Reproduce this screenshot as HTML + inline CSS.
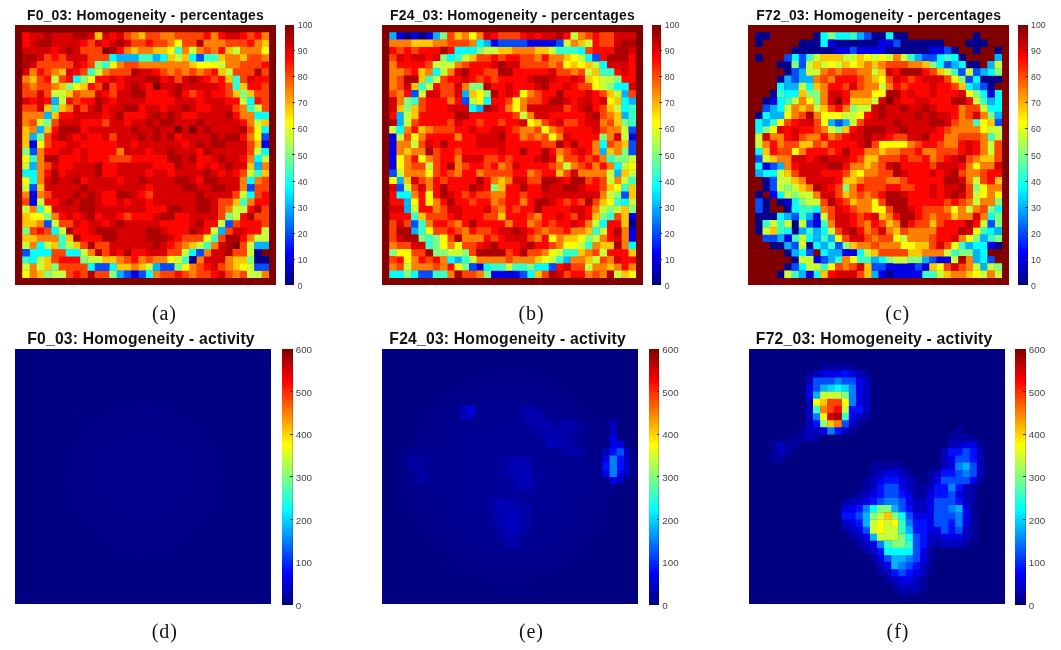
<!DOCTYPE html>
<html><head><meta charset="utf-8"><title>Homogeneity maps</title>
<style>
html,body{margin:0;padding:0;background:#fff}
body{position:relative;width:1061px;height:650px;overflow:hidden;font-family:"Liberation Sans",sans-serif}
.hm{position:absolute;display:block}
.cb{position:absolute;box-shadow:inset -0.6px 0.6px 0 rgba(60,0,0,.35);background:linear-gradient(to bottom,#800000 0%,#bf0000 6.25%,#ff0000 12.5%,#ff4000 18.75%,#ff8000 25%,#ffbf00 31.25%,#ffff00 37.5%,#bfff40 43.75%,#80ff80 50%,#40ffbf 56.25%,#00ffff 62.5%,#00bfff 68.75%,#0080ff 75%,#0040ff 81.25%,#0000ff 87.5%,#0000bf 93.75%,#000080 100%)}
.tk{position:absolute;width:2.5px;height:1px;background:#333}
.lb{position:absolute;font-size:8.7px;line-height:10px;color:#444;white-space:nowrap}
.l2{font-size:9.8px}
.tt{position:absolute;width:300px;text-align:center;font-weight:bold;color:#111;white-space:nowrap}
.t1{top:7.3px;font-size:13.93px;line-height:16px;letter-spacing:0.2px}
.t2{top:330.1px;font-size:15.7px;line-height:18px;letter-spacing:0.21px}
.cap{position:absolute;width:60px;text-align:center;font-family:"Liberation Serif",serif;font-size:20px;line-height:24px;color:#111;letter-spacing:0.9px;text-indent:0.9px}
</style></head><body>
<svg class="hm" style="left:15px;top:25px" width="261" height="260" viewBox="0 0 36 36" preserveAspectRatio="none">
<rect width="36" height="36" fill="#d60000"/>
<path fill="#800000" d="M0 0h36.04v1.04h-36.04zM0 1h1.04v1.04h-1.04zM35 1h1.04v1.04h-1.04zM0 2h1.04v1.04h-1.04zM35 2h1.04v1.04h-1.04zM0 3h1.04v1.04h-1.04zM12 3h1.04v1.04h-1.04zM35 3h1.04v1.04h-1.04zM0 4h1.04v1.04h-1.04zM35 4h1.04v1.04h-1.04zM0 5h1.04v1.04h-1.04zM35 5h1.04v1.04h-1.04zM0 6h1.04v1.04h-1.04zM35 6h1.04v1.04h-1.04zM0 7h1.04v1.04h-1.04zM35 7h1.04v1.04h-1.04zM0 8h1.04v1.04h-1.04zM19 8h1.04v1.04h-1.04zM35 8h1.04v1.04h-1.04zM0 9h1.04v1.04h-1.04zM35 9h1.04v1.04h-1.04zM0 10h1.04v1.04h-1.04zM35 10h1.04v1.04h-1.04zM0 11h1.04v1.04h-1.04zM35 11h1.04v1.04h-1.04zM0 12h1.04v1.04h-1.04zM35 12h1.04v1.04h-1.04zM0 13h1.04v1.04h-1.04zM35 13h1.04v1.04h-1.04zM0 14h1.04v1.04h-1.04zM22 14h1.04v1.04h-1.04zM24 14h1.04v1.04h-1.04zM35 14h1.04v1.04h-1.04zM0 15h1.04v1.04h-1.04zM35 15h1.04v1.04h-1.04zM0 16h1.04v1.04h-1.04zM35 16h1.04v1.04h-1.04zM0 17h1.04v1.04h-1.04zM35 17h1.04v1.04h-1.04zM0 18h1.04v1.04h-1.04zM35 18h1.04v1.04h-1.04zM0 19h1.04v1.04h-1.04zM35 19h1.04v1.04h-1.04zM0 20h1.04v1.04h-1.04zM35 20h1.04v1.04h-1.04zM0 21h1.04v1.04h-1.04zM35 21h1.04v1.04h-1.04zM0 22h1.04v1.04h-1.04zM35 22h1.04v1.04h-1.04zM0 23h1.04v1.04h-1.04zM35 23h1.04v1.04h-1.04zM0 24h1.04v1.04h-1.04zM35 24h1.04v1.04h-1.04zM0 25h1.04v1.04h-1.04zM35 25h1.04v1.04h-1.04zM0 26h1.04v1.04h-1.04zM35 26h1.04v1.04h-1.04zM0 27h1.04v1.04h-1.04zM35 27h1.04v1.04h-1.04zM0 28h1.04v1.04h-1.04zM35 28h1.04v1.04h-1.04zM0 29h1.04v1.04h-1.04zM35 29h1.04v1.04h-1.04zM0 30h1.04v1.04h-1.04zM30 30h1.04v1.04h-1.04zM35 30h1.04v1.04h-1.04zM0 31h1.04v1.04h-1.04zM34 31h2.04v1.04h-2.04zM0 32h1.04v1.04h-1.04zM35 32h1.04v1.04h-1.04zM0 33h1.04v1.04h-1.04zM35 33h1.04v1.04h-1.04zM0 34h1.04v1.04h-1.04zM35 34h1.04v1.04h-1.04zM0 35h36.04v1.04h-36.04z"/>
<path fill="#ff0500" d="M1 1h1.04v1.04h-1.04zM13 1h1.04v1.04h-1.04zM26 1h1.04v1.04h-1.04zM28 1h1.04v1.04h-1.04zM31 1h1.04v1.04h-1.04zM33 1h1.04v1.04h-1.04zM1 2h1.04v1.04h-1.04zM9 2h1.04v1.04h-1.04zM12 2h1.04v1.04h-1.04zM18 2h1.04v1.04h-1.04zM32 2h1.04v1.04h-1.04zM5 3h1.04v1.04h-1.04zM14 3h1.04v1.04h-1.04zM28 3h1.04v1.04h-1.04zM5 4h1.04v1.04h-1.04zM9 5h1.04v1.04h-1.04zM34 5h1.04v1.04h-1.04zM3 6h1.04v1.04h-1.04zM8 6h1.04v1.04h-1.04zM19 6h1.04v1.04h-1.04zM27 6h1.04v1.04h-1.04zM4 7h1.04v1.04h-1.04zM7 7h1.04v1.04h-1.04zM11 7h2.04v1.04h-2.04zM14 7h1.04v1.04h-1.04zM20 7h1.04v1.04h-1.04zM26 7h1.04v1.04h-1.04zM28 7h1.04v1.04h-1.04zM33 7h2.04v1.04h-2.04zM10 8h1.04v1.04h-1.04zM14 8h1.04v1.04h-1.04zM18 8h1.04v1.04h-1.04zM28 8h1.04v1.04h-1.04zM32 8h2.04v1.04h-2.04zM12 9h1.04v1.04h-1.04zM18 9h3.04v1.04h-3.04zM23 9h1.04v1.04h-1.04zM25 9h1.04v1.04h-1.04zM27 9h2.04v1.04h-2.04zM2 10h1.04v1.04h-1.04zM4 10h1.04v1.04h-1.04zM7 10h1.04v1.04h-1.04zM9 10h2.04v1.04h-2.04zM13 10h1.04v1.04h-1.04zM18 10h4.04v1.04h-4.04zM25 10h1.04v1.04h-1.04zM29 10h2.04v1.04h-2.04zM33 10h1.04v1.04h-1.04zM12 11h1.04v1.04h-1.04zM17 11h1.04v1.04h-1.04zM20 11h1.04v1.04h-1.04zM25 11h2.04v1.04h-2.04zM6 12h2.04v1.04h-2.04zM12 12h1.04v1.04h-1.04zM15 12h3.04v1.04h-3.04zM23 12h2.04v1.04h-2.04zM30 12h1.04v1.04h-1.04zM9 13h3.04v1.04h-3.04zM15 13h1.04v1.04h-1.04zM31 13h1.04v1.04h-1.04zM5 14h1.04v1.04h-1.04zM9 14h1.04v1.04h-1.04zM8 15h1.04v1.04h-1.04zM10 15h2.04v1.04h-2.04zM22 15h1.04v1.04h-1.04zM31 15h1.04v1.04h-1.04zM5 16h2.04v1.04h-2.04zM9 16h5.04v1.04h-5.04zM16 16h1.04v1.04h-1.04zM23 16h1.04v1.04h-1.04zM4 17h2.04v1.04h-2.04zM8 17h1.04v1.04h-1.04zM10 17h4.04v1.04h-4.04zM18 17h1.04v1.04h-1.04zM25 17h1.04v1.04h-1.04zM6 18h3.04v1.04h-3.04zM10 18h3.04v1.04h-3.04zM16 18h5.04v1.04h-5.04zM25 18h2.04v1.04h-2.04zM31 18h1.04v1.04h-1.04zM6 19h2.04v1.04h-2.04zM12 19h2.04v1.04h-2.04zM19 19h3.04v1.04h-3.04zM25 19h1.04v1.04h-1.04zM27 19h1.04v1.04h-1.04zM4 20h1.04v1.04h-1.04zM6 20h1.04v1.04h-1.04zM12 20h2.04v1.04h-2.04zM18 20h1.04v1.04h-1.04zM21 20h1.04v1.04h-1.04zM28 20h1.04v1.04h-1.04zM30 20h1.04v1.04h-1.04zM9 21h1.04v1.04h-1.04zM14 21h1.04v1.04h-1.04zM25 21h1.04v1.04h-1.04zM18 22h1.04v1.04h-1.04zM12 23h2.04v1.04h-2.04zM17 23h1.04v1.04h-1.04zM34 23h1.04v1.04h-1.04zM4 24h2.04v1.04h-2.04zM12 24h2.04v1.04h-2.04zM15 24h1.04v1.04h-1.04zM18 24h1.04v1.04h-1.04zM33 24h2.04v1.04h-2.04zM18 25h3.04v1.04h-3.04zM32 25h1.04v1.04h-1.04zM6 26h1.04v1.04h-1.04zM8 26h1.04v1.04h-1.04zM11 26h1.04v1.04h-1.04zM14 26h1.04v1.04h-1.04zM16 26h3.04v1.04h-3.04zM22 26h2.04v1.04h-2.04zM31 26h1.04v1.04h-1.04zM9 27h1.04v1.04h-1.04zM12 27h1.04v1.04h-1.04zM20 27h4.04v1.04h-4.04zM26 27h2.04v1.04h-2.04zM31 27h3.04v1.04h-3.04zM3 28h1.04v1.04h-1.04zM8 28h2.04v1.04h-2.04zM21 28h3.04v1.04h-3.04zM26 28h1.04v1.04h-1.04zM32 28h2.04v1.04h-2.04zM9 29h3.04v1.04h-3.04zM22 29h1.04v1.04h-1.04zM31 29h1.04v1.04h-1.04zM21 30h1.04v1.04h-1.04zM14 31h1.04v1.04h-1.04zM16 31h2.04v1.04h-2.04zM6 32h3.04v1.04h-3.04zM16 32h1.04v1.04h-1.04zM26 33h1.04v1.04h-1.04zM8 34h1.04v1.04h-1.04zM22 34h1.04v1.04h-1.04zM27 34h1.04v1.04h-1.04z"/>
<path fill="#ad0000" d="M4 1h1.04v1.04h-1.04zM8 1h2.04v1.04h-2.04zM3 2h2.04v1.04h-2.04zM14 2h1.04v1.04h-1.04zM25 2h1.04v1.04h-1.04zM7 3h1.04v1.04h-1.04zM13 3h1.04v1.04h-1.04zM1 4h2.04v1.04h-2.04zM1 5h1.04v1.04h-1.04zM16 6h1.04v1.04h-1.04zM33 6h1.04v1.04h-1.04zM18 7h2.04v1.04h-2.04zM24 7h1.04v1.04h-1.04zM12 8h1.04v1.04h-1.04zM16 8h1.04v1.04h-1.04zM22 8h1.04v1.04h-1.04zM16 9h2.04v1.04h-2.04zM22 9h1.04v1.04h-1.04zM11 10h1.04v1.04h-1.04zM11 11h1.04v1.04h-1.04zM15 11h2.04v1.04h-2.04zM23 11h1.04v1.04h-1.04zM14 12h1.04v1.04h-1.04zM19 12h1.04v1.04h-1.04zM21 12h1.04v1.04h-1.04zM29 12h1.04v1.04h-1.04zM18 13h1.04v1.04h-1.04zM20 13h2.04v1.04h-2.04zM25 13h1.04v1.04h-1.04zM6 14h3.04v1.04h-3.04zM16 14h1.04v1.04h-1.04zM19 14h1.04v1.04h-1.04zM26 14h1.04v1.04h-1.04zM31 14h1.04v1.04h-1.04zM6 15h1.04v1.04h-1.04zM17 15h1.04v1.04h-1.04zM19 15h1.04v1.04h-1.04zM21 15h1.04v1.04h-1.04zM27 15h1.04v1.04h-1.04zM29 15h2.04v1.04h-2.04zM25 16h1.04v1.04h-1.04zM27 16h2.04v1.04h-2.04zM21 17h1.04v1.04h-1.04zM26 17h1.04v1.04h-1.04zM4 18h2.04v1.04h-2.04zM21 18h2.04v1.04h-2.04zM24 18h1.04v1.04h-1.04zM28 18h1.04v1.04h-1.04zM11 19h1.04v1.04h-1.04zM22 19h1.04v1.04h-1.04zM29 19h1.04v1.04h-1.04zM5 20h1.04v1.04h-1.04zM11 20h1.04v1.04h-1.04zM26 20h1.04v1.04h-1.04zM5 21h1.04v1.04h-1.04zM8 21h1.04v1.04h-1.04zM17 21h1.04v1.04h-1.04zM22 21h2.04v1.04h-2.04zM26 21h2.04v1.04h-2.04zM9 22h1.04v1.04h-1.04zM23 22h2.04v1.04h-2.04zM27 22h2.04v1.04h-2.04zM8 23h1.04v1.04h-1.04zM10 23h1.04v1.04h-1.04zM14 23h2.04v1.04h-2.04zM25 23h1.04v1.04h-1.04zM7 24h1.04v1.04h-1.04zM9 24h2.04v1.04h-2.04zM25 24h2.04v1.04h-2.04zM9 25h2.04v1.04h-2.04zM21 25h2.04v1.04h-2.04zM25 25h2.04v1.04h-2.04zM33 25h1.04v1.04h-1.04zM10 26h1.04v1.04h-1.04zM20 26h2.04v1.04h-2.04zM32 26h1.04v1.04h-1.04zM14 27h1.04v1.04h-1.04zM25 27h1.04v1.04h-1.04zM7 28h1.04v1.04h-1.04zM11 28h3.04v1.04h-3.04zM18 28h2.04v1.04h-2.04zM24 28h1.04v1.04h-1.04zM8 29h1.04v1.04h-1.04zM12 29h2.04v1.04h-2.04zM18 29h3.04v1.04h-3.04zM29 29h2.04v1.04h-2.04zM10 30h1.04v1.04h-1.04zM19 30h1.04v1.04h-1.04zM29 30h1.04v1.04h-1.04zM11 31h1.04v1.04h-1.04zM15 31h1.04v1.04h-1.04zM29 31h1.04v1.04h-1.04zM10 34h1.04v1.04h-1.04z"/>
<path fill="#ffc700" d="M11 1h1.04v1.04h-1.04zM17 1h1.04v1.04h-1.04zM34 2h1.04v1.04h-1.04zM16 3h1.04v1.04h-1.04zM19 3h2.04v1.04h-2.04zM29 3h1.04v1.04h-1.04zM21 4h1.04v1.04h-1.04zM23 4h1.04v1.04h-1.04zM28 4h1.04v1.04h-1.04zM31 4h1.04v1.04h-1.04zM24 5h1.04v1.04h-1.04zM6 6h1.04v1.04h-1.04zM28 6h1.04v1.04h-1.04zM2 7h1.04v1.04h-1.04zM29 7h1.04v1.04h-1.04zM6 8h1.04v1.04h-1.04zM9 8h1.04v1.04h-1.04zM31 8h1.04v1.04h-1.04zM7 9h1.04v1.04h-1.04zM30 9h1.04v1.04h-1.04zM32 9h1.04v1.04h-1.04zM4 11h1.04v1.04h-1.04zM6 11h1.04v1.04h-1.04zM5 12h1.04v1.04h-1.04zM34 13h1.04v1.04h-1.04zM1 14h1.04v1.04h-1.04zM4 14h1.04v1.04h-1.04zM1 15h1.04v1.04h-1.04zM1 16h1.04v1.04h-1.04zM33 16h1.04v1.04h-1.04zM32 19h1.04v1.04h-1.04zM34 20h1.04v1.04h-1.04zM3 22h1.04v1.04h-1.04zM30 24h1.04v1.04h-1.04zM1 26h1.04v1.04h-1.04zM1 27h2.04v1.04h-2.04zM1 29h2.04v1.04h-2.04zM7 29h1.04v1.04h-1.04zM5 30h1.04v1.04h-1.04zM8 30h1.04v1.04h-1.04zM24 30h1.04v1.04h-1.04zM4 32h1.04v1.04h-1.04zM12 32h2.04v1.04h-2.04zM30 32h2.04v1.04h-2.04zM4 33h1.04v1.04h-1.04zM14 33h2.04v1.04h-2.04zM17 33h1.04v1.04h-1.04zM30 33h1.04v1.04h-1.04zM3 34h1.04v1.04h-1.04z"/>
<path fill="#ff4200" d="M15 1h1.04v1.04h-1.04zM18 1h2.04v1.04h-2.04zM22 1h4.04v1.04h-4.04zM32 1h1.04v1.04h-1.04zM10 2h1.04v1.04h-1.04zM16 2h2.04v1.04h-2.04zM19 2h2.04v1.04h-2.04zM23 2h2.04v1.04h-2.04zM29 2h3.04v1.04h-3.04zM9 3h3.04v1.04h-3.04zM26 3h1.04v1.04h-1.04zM4 4h1.04v1.04h-1.04zM6 4h1.04v1.04h-1.04zM10 4h3.04v1.04h-3.04zM32 4h2.04v1.04h-2.04zM3 5h5.04v1.04h-5.04zM10 5h1.04v1.04h-1.04zM15 5h2.04v1.04h-2.04zM31 5h3.04v1.04h-3.04zM4 6h1.04v1.04h-1.04zM9 6h1.04v1.04h-1.04zM13 6h3.04v1.04h-3.04zM20 6h1.04v1.04h-1.04zM22 6h1.04v1.04h-1.04zM24 6h1.04v1.04h-1.04zM26 6h1.04v1.04h-1.04zM30 6h3.04v1.04h-3.04zM34 6h1.04v1.04h-1.04zM3 7h1.04v1.04h-1.04zM6 7h1.04v1.04h-1.04zM22 7h1.04v1.04h-1.04zM27 7h1.04v1.04h-1.04zM31 7h1.04v1.04h-1.04zM1 8h1.04v1.04h-1.04zM3 8h2.04v1.04h-2.04zM11 8h1.04v1.04h-1.04zM13 8h1.04v1.04h-1.04zM29 8h1.04v1.04h-1.04zM34 8h1.04v1.04h-1.04zM1 9h2.04v1.04h-2.04zM4 9h1.04v1.04h-1.04zM8 9h1.04v1.04h-1.04zM13 9h1.04v1.04h-1.04zM24 9h1.04v1.04h-1.04zM29 9h1.04v1.04h-1.04zM33 9h2.04v1.04h-2.04zM8 10h1.04v1.04h-1.04zM34 10h1.04v1.04h-1.04zM1 11h2.04v1.04h-2.04zM9 11h1.04v1.04h-1.04zM30 11h1.04v1.04h-1.04zM34 11h1.04v1.04h-1.04zM2 13h1.04v1.04h-1.04zM5 13h1.04v1.04h-1.04zM12 13h1.04v1.04h-1.04zM32 14h1.04v1.04h-1.04zM4 15h1.04v1.04h-1.04zM13 15h1.04v1.04h-1.04zM4 16h1.04v1.04h-1.04zM32 16h1.04v1.04h-1.04zM32 17h1.04v1.04h-1.04zM13 18h3.04v1.04h-3.04zM4 19h1.04v1.04h-1.04zM31 20h1.04v1.04h-1.04zM34 21h1.04v1.04h-1.04zM33 22h2.04v1.04h-2.04zM4 23h1.04v1.04h-1.04zM18 23h1.04v1.04h-1.04zM30 23h1.04v1.04h-1.04zM33 23h1.04v1.04h-1.04zM1 24h1.04v1.04h-1.04zM28 24h2.04v1.04h-2.04zM28 25h1.04v1.04h-1.04zM34 25h1.04v1.04h-1.04zM15 26h1.04v1.04h-1.04zM28 26h1.04v1.04h-1.04zM33 26h2.04v1.04h-2.04zM6 27h2.04v1.04h-2.04zM30 27h1.04v1.04h-1.04zM34 27h1.04v1.04h-1.04zM2 28h1.04v1.04h-1.04zM4 28h1.04v1.04h-1.04zM29 28h1.04v1.04h-1.04zM23 29h3.04v1.04h-3.04zM28 29h1.04v1.04h-1.04zM9 30h1.04v1.04h-1.04zM11 30h2.04v1.04h-2.04zM22 30h1.04v1.04h-1.04zM31 30h1.04v1.04h-1.04zM5 31h2.04v1.04h-2.04zM12 31h1.04v1.04h-1.04zM21 31h2.04v1.04h-2.04zM30 31h2.04v1.04h-2.04zM5 32h1.04v1.04h-1.04zM15 32h1.04v1.04h-1.04zM18 32h1.04v1.04h-1.04zM6 33h4.04v1.04h-4.04zM25 33h1.04v1.04h-1.04zM28 33h1.04v1.04h-1.04zM7 34h1.04v1.04h-1.04zM9 34h1.04v1.04h-1.04zM11 34h2.04v1.04h-2.04zM20 34h2.04v1.04h-2.04zM23 34h1.04v1.04h-1.04zM25 34h2.04v1.04h-2.04zM29 34h1.04v1.04h-1.04zM31 34h1.04v1.04h-1.04z"/>
<path fill="#ff8000" d="M16 1h1.04v1.04h-1.04zM20 1h2.04v1.04h-2.04zM27 1h1.04v1.04h-1.04zM34 1h1.04v1.04h-1.04zM21 2h1.04v1.04h-1.04zM26 2h3.04v1.04h-3.04zM33 2h1.04v1.04h-1.04zM15 3h1.04v1.04h-1.04zM17 3h2.04v1.04h-2.04zM23 3h1.04v1.04h-1.04zM25 3h1.04v1.04h-1.04zM27 3h1.04v1.04h-1.04zM31 3h3.04v1.04h-3.04zM29 4h2.04v1.04h-2.04zM34 4h1.04v1.04h-1.04zM14 5h1.04v1.04h-1.04zM17 5h7.04v1.04h-7.04zM29 5h2.04v1.04h-2.04zM2 6h1.04v1.04h-1.04zM5 6h1.04v1.04h-1.04zM12 6h1.04v1.04h-1.04zM21 6h1.04v1.04h-1.04zM23 6h1.04v1.04h-1.04zM25 6h1.04v1.04h-1.04zM1 7h1.04v1.04h-1.04zM2 8h1.04v1.04h-1.04zM5 8h1.04v1.04h-1.04zM9 9h2.04v1.04h-2.04zM7 11h1.04v1.04h-1.04zM31 11h1.04v1.04h-1.04zM1 12h3.04v1.04h-3.04zM31 12h2.04v1.04h-2.04zM1 13h1.04v1.04h-1.04zM32 13h1.04v1.04h-1.04zM2 14h1.04v1.04h-1.04zM32 15h1.04v1.04h-1.04zM3 17h1.04v1.04h-1.04zM14 17h1.04v1.04h-1.04zM3 18h1.04v1.04h-1.04zM32 18h1.04v1.04h-1.04zM3 19h1.04v1.04h-1.04zM34 19h1.04v1.04h-1.04zM3 20h1.04v1.04h-1.04zM3 21h1.04v1.04h-1.04zM31 21h1.04v1.04h-1.04zM33 21h1.04v1.04h-1.04zM31 22h1.04v1.04h-1.04zM1 23h1.04v1.04h-1.04zM3 23h1.04v1.04h-1.04zM32 24h1.04v1.04h-1.04zM2 25h1.04v1.04h-1.04zM29 25h1.04v1.04h-1.04zM5 26h1.04v1.04h-1.04zM3 27h1.04v1.04h-1.04zM3 29h3.04v1.04h-3.04zM32 29h1.04v1.04h-1.04zM2 30h1.04v1.04h-1.04zM23 30h1.04v1.04h-1.04zM27 30h1.04v1.04h-1.04zM10 31h1.04v1.04h-1.04zM26 31h1.04v1.04h-1.04zM14 32h1.04v1.04h-1.04zM17 32h1.04v1.04h-1.04zM19 32h2.04v1.04h-2.04zM25 32h1.04v1.04h-1.04zM29 32h1.04v1.04h-1.04zM2 33h1.04v1.04h-1.04zM16 33h1.04v1.04h-1.04zM24 33h1.04v1.04h-1.04zM29 33h1.04v1.04h-1.04zM2 34h1.04v1.04h-1.04zM19 34h1.04v1.04h-1.04zM24 34h1.04v1.04h-1.04zM30 34h1.04v1.04h-1.04zM34 34h1.04v1.04h-1.04z"/>
<path fill="#ffff00" d="M22 2h1.04v1.04h-1.04zM21 3h1.04v1.04h-1.04zM34 3h1.04v1.04h-1.04zM13 5h1.04v1.04h-1.04zM25 5h3.04v1.04h-3.04zM10 7h1.04v1.04h-1.04zM8 8h1.04v1.04h-1.04zM33 14h1.04v1.04h-1.04zM33 15h1.04v1.04h-1.04zM3 16h1.04v1.04h-1.04zM1 18h1.04v1.04h-1.04zM1 21h1.04v1.04h-1.04zM4 25h1.04v1.04h-1.04zM2 26h2.04v1.04h-2.04zM26 29h1.04v1.04h-1.04zM21 32h1.04v1.04h-1.04zM23 33h1.04v1.04h-1.04zM31 33h1.04v1.04h-1.04zM1 34h1.04v1.04h-1.04z"/>
<path fill="#38ffc7" d="M22 3h1.04v1.04h-1.04zM17 4h2.04v1.04h-2.04zM26 4h2.04v1.04h-2.04zM12 5h1.04v1.04h-1.04zM10 6h1.04v1.04h-1.04zM30 7h1.04v1.04h-1.04zM30 8h1.04v1.04h-1.04zM5 11h1.04v1.04h-1.04zM32 11h1.04v1.04h-1.04zM2 18h1.04v1.04h-1.04zM33 20h1.04v1.04h-1.04zM31 24h1.04v1.04h-1.04zM3 25h1.04v1.04h-1.04zM6 29h1.04v1.04h-1.04zM27 29h1.04v1.04h-1.04zM6 30h1.04v1.04h-1.04zM26 30h1.04v1.04h-1.04zM1 32h1.04v1.04h-1.04zM23 32h1.04v1.04h-1.04z"/>
<path fill="#c7ff38" d="M24 3h1.04v1.04h-1.04zM30 3h1.04v1.04h-1.04zM22 4h1.04v1.04h-1.04zM28 5h1.04v1.04h-1.04zM11 6h1.04v1.04h-1.04zM29 6h1.04v1.04h-1.04zM5 7h1.04v1.04h-1.04zM5 9h2.04v1.04h-2.04zM6 10h1.04v1.04h-1.04zM31 10h1.04v1.04h-1.04zM33 11h1.04v1.04h-1.04zM3 13h1.04v1.04h-1.04zM33 13h1.04v1.04h-1.04zM33 17h1.04v1.04h-1.04zM34 18h1.04v1.04h-1.04zM1 19h1.04v1.04h-1.04zM32 20h1.04v1.04h-1.04zM1 22h1.04v1.04h-1.04zM31 23h1.04v1.04h-1.04zM3 24h1.04v1.04h-1.04zM1 25h1.04v1.04h-1.04zM30 25h2.04v1.04h-2.04zM30 26h1.04v1.04h-1.04zM5 27h1.04v1.04h-1.04zM28 27h1.04v1.04h-1.04zM6 28h1.04v1.04h-1.04zM27 28h1.04v1.04h-1.04zM34 28h1.04v1.04h-1.04zM33 29h2.04v1.04h-2.04zM1 30h1.04v1.04h-1.04zM4 30h1.04v1.04h-1.04zM7 30h1.04v1.04h-1.04zM25 30h1.04v1.04h-1.04zM32 30h1.04v1.04h-1.04zM9 31h1.04v1.04h-1.04zM23 31h1.04v1.04h-1.04zM32 31h1.04v1.04h-1.04zM3 32h1.04v1.04h-1.04zM10 32h2.04v1.04h-2.04zM22 32h1.04v1.04h-1.04zM1 33h1.04v1.04h-1.04zM3 33h1.04v1.04h-1.04zM18 33h1.04v1.04h-1.04zM32 33h1.04v1.04h-1.04zM5 34h2.04v1.04h-2.04zM32 34h2.04v1.04h-2.04z"/>
<path fill="#00ffff" d="M13 4h1.04v1.04h-1.04zM20 4h1.04v1.04h-1.04zM24 4h1.04v1.04h-1.04zM8 7h1.04v1.04h-1.04zM32 10h1.04v1.04h-1.04zM33 12h2.04v1.04h-2.04zM34 14h1.04v1.04h-1.04zM34 17h1.04v1.04h-1.04zM33 18h1.04v1.04h-1.04zM1 20h2.04v1.04h-2.04zM2 21h1.04v1.04h-1.04zM32 21h1.04v1.04h-1.04zM32 23h1.04v1.04h-1.04zM5 28h1.04v1.04h-1.04zM3 30h1.04v1.04h-1.04zM2 31h3.04v1.04h-3.04zM7 31h2.04v1.04h-2.04zM24 31h1.04v1.04h-1.04zM2 32h1.04v1.04h-1.04zM10 33h1.04v1.04h-1.04zM13 33h1.04v1.04h-1.04zM18 34h1.04v1.04h-1.04z"/>
<path fill="#00b2ff" d="M14 4h3.04v1.04h-3.04zM19 4h1.04v1.04h-1.04zM5 10h1.04v1.04h-1.04zM4 12h1.04v1.04h-1.04zM3 14h1.04v1.04h-1.04zM2 15h1.04v1.04h-1.04zM2 19h1.04v1.04h-1.04zM33 19h1.04v1.04h-1.04zM28 28h1.04v1.04h-1.04zM33 30h2.04v1.04h-2.04zM19 33h1.04v1.04h-1.04zM14 34h1.04v1.04h-1.04z"/>
<path fill="#004dff" d="M25 4h1.04v1.04h-1.04zM34 15h1.04v1.04h-1.04zM2 17h1.04v1.04h-1.04zM2 22h1.04v1.04h-1.04zM32 22h1.04v1.04h-1.04zM4 27h1.04v1.04h-1.04zM29 27h1.04v1.04h-1.04zM1 31h1.04v1.04h-1.04zM25 31h1.04v1.04h-1.04zM11 33h2.04v1.04h-2.04zM20 33h2.04v1.04h-2.04zM33 33h2.04v1.04h-2.04zM15 34h1.04v1.04h-1.04zM17 34h1.04v1.04h-1.04z"/>
<path fill="#80ff80" d="M11 5h1.04v1.04h-1.04zM9 7h1.04v1.04h-1.04zM7 8h1.04v1.04h-1.04zM31 9h1.04v1.04h-1.04zM4 13h1.04v1.04h-1.04zM3 15h1.04v1.04h-1.04zM1 17h1.04v1.04h-1.04zM4 26h1.04v1.04h-1.04zM29 26h1.04v1.04h-1.04zM1 28h1.04v1.04h-1.04zM9 32h1.04v1.04h-1.04zM32 32h1.04v1.04h-1.04zM5 33h1.04v1.04h-1.04zM22 33h1.04v1.04h-1.04zM4 34h1.04v1.04h-1.04zM13 34h1.04v1.04h-1.04z"/>
<path fill="#0000e6" d="M2 16h1.04v1.04h-1.04zM34 16h1.04v1.04h-1.04zM2 23h1.04v1.04h-1.04zM2 24h1.04v1.04h-1.04zM16 34h1.04v1.04h-1.04z"/>
<path fill="#00008c" d="M33 31h1.04v1.04h-1.04zM24 32h1.04v1.04h-1.04zM33 32h2.04v1.04h-2.04z"/>
</svg>
<div class="cb" style="left:285.1px;top:24.5px;width:9.4px;height:260.9px"></div><div class="lb" style="left:297.8px;top:281px">0</div><div class="tk" style="left:292px;top:258.81px"></div><div class="lb" style="left:297.8px;top:254.91px">10</div><div class="tk" style="left:292px;top:232.72px"></div><div class="lb" style="left:297.8px;top:228.82px">20</div><div class="tk" style="left:292px;top:206.63px"></div><div class="lb" style="left:297.8px;top:202.73px">30</div><div class="tk" style="left:292px;top:180.54px"></div><div class="lb" style="left:297.8px;top:176.64px">40</div><div class="tk" style="left:292px;top:154.45px"></div><div class="lb" style="left:297.8px;top:150.55px">50</div><div class="tk" style="left:292px;top:128.36px"></div><div class="lb" style="left:297.8px;top:124.46px">60</div><div class="tk" style="left:292px;top:102.27px"></div><div class="lb" style="left:297.8px;top:98.37px">70</div><div class="tk" style="left:292px;top:76.18px"></div><div class="lb" style="left:297.8px;top:72.28px">80</div><div class="tk" style="left:292px;top:50.09px"></div><div class="lb" style="left:297.8px;top:46.19px">90</div><div class="lb" style="left:297.8px;top:20.1px">100</div>
<div class="tt t1" style="left:-4.5px">F0_03: Homogeneity - percentages</div>
<div class="cap" style="left:134px;top:301px">(a)</div>
<svg class="hm" style="left:382px;top:25px" width="261" height="260" viewBox="0 0 36 36" preserveAspectRatio="none">
<rect width="36" height="36" fill="#ff0500"/>
<path fill="#800000" d="M0 0h36.04v1.04h-36.04zM0 1h1.04v1.04h-1.04zM35 1h1.04v1.04h-1.04zM0 2h1.04v1.04h-1.04zM35 2h1.04v1.04h-1.04zM0 3h1.04v1.04h-1.04zM35 3h1.04v1.04h-1.04zM0 4h1.04v1.04h-1.04zM35 4h1.04v1.04h-1.04zM0 5h1.04v1.04h-1.04zM35 5h1.04v1.04h-1.04zM0 6h1.04v1.04h-1.04zM35 6h1.04v1.04h-1.04zM0 7h1.04v1.04h-1.04zM35 7h1.04v1.04h-1.04zM0 8h1.04v1.04h-1.04zM35 8h1.04v1.04h-1.04zM0 9h1.04v1.04h-1.04zM35 9h1.04v1.04h-1.04zM0 10h1.04v1.04h-1.04zM35 10h1.04v1.04h-1.04zM0 11h1.04v1.04h-1.04zM35 11h1.04v1.04h-1.04zM0 12h1.04v1.04h-1.04zM35 12h1.04v1.04h-1.04zM0 13h1.04v1.04h-1.04zM35 13h1.04v1.04h-1.04zM0 14h1.04v1.04h-1.04zM35 14h1.04v1.04h-1.04zM0 15h1.04v1.04h-1.04zM35 15h1.04v1.04h-1.04zM0 16h1.04v1.04h-1.04zM35 16h1.04v1.04h-1.04zM0 17h1.04v1.04h-1.04zM35 17h1.04v1.04h-1.04zM0 18h1.04v1.04h-1.04zM35 18h1.04v1.04h-1.04zM0 19h1.04v1.04h-1.04zM35 19h1.04v1.04h-1.04zM0 20h1.04v1.04h-1.04zM35 20h1.04v1.04h-1.04zM0 21h1.04v1.04h-1.04zM35 21h1.04v1.04h-1.04zM0 22h1.04v1.04h-1.04zM35 22h1.04v1.04h-1.04zM0 23h1.04v1.04h-1.04zM35 23h1.04v1.04h-1.04zM0 24h1.04v1.04h-1.04zM35 24h1.04v1.04h-1.04zM0 25h1.04v1.04h-1.04zM35 25h1.04v1.04h-1.04zM0 26h1.04v1.04h-1.04zM35 26h1.04v1.04h-1.04zM0 27h1.04v1.04h-1.04zM35 27h1.04v1.04h-1.04zM0 28h1.04v1.04h-1.04zM35 28h1.04v1.04h-1.04zM0 29h1.04v1.04h-1.04zM35 29h1.04v1.04h-1.04zM0 30h1.04v1.04h-1.04zM35 30h1.04v1.04h-1.04zM0 31h1.04v1.04h-1.04zM35 31h1.04v1.04h-1.04zM0 32h1.04v1.04h-1.04zM35 32h1.04v1.04h-1.04zM0 33h1.04v1.04h-1.04zM35 33h1.04v1.04h-1.04zM0 34h1.04v1.04h-1.04zM35 34h1.04v1.04h-1.04zM0 35h36.04v1.04h-36.04z"/>
<path fill="#00b2ff" d="M1 1h1.04v1.04h-1.04zM7 1h1.04v1.04h-1.04zM14 2h1.04v1.04h-1.04zM11 9h1.04v1.04h-1.04zM33 9h1.04v1.04h-1.04zM34 10h1.04v1.04h-1.04zM13 11h1.04v1.04h-1.04zM2 12h1.04v1.04h-1.04zM33 12h1.04v1.04h-1.04zM2 13h1.04v1.04h-1.04zM30 17h1.04v1.04h-1.04zM32 20h1.04v1.04h-1.04zM2 21h1.04v1.04h-1.04zM3 24h1.04v1.04h-1.04zM3 25h1.04v1.04h-1.04zM4 28h1.04v1.04h-1.04zM10 32h1.04v1.04h-1.04zM25 32h1.04v1.04h-1.04z"/>
<path fill="#0000e6" d="M2 1h1.04v1.04h-1.04zM4 1h1.04v1.04h-1.04zM6 1h1.04v1.04h-1.04zM15 2h1.04v1.04h-1.04zM20 2h4.04v1.04h-4.04zM1 15h1.04v1.04h-1.04zM34 15h1.04v1.04h-1.04zM1 16h1.04v1.04h-1.04zM1 17h1.04v1.04h-1.04zM1 18h1.04v1.04h-1.04zM1 19h1.04v1.04h-1.04zM34 26h1.04v1.04h-1.04zM34 28h1.04v1.04h-1.04zM34 29h1.04v1.04h-1.04zM13 33h1.04v1.04h-1.04zM15 34h4.04v1.04h-4.04z"/>
<path fill="#00008c" d="M3 1h1.04v1.04h-1.04zM5 1h1.04v1.04h-1.04zM34 27h1.04v1.04h-1.04z"/>
<path fill="#80ff80" d="M8 1h1.04v1.04h-1.04zM13 3h1.04v1.04h-1.04zM8 4h1.04v1.04h-1.04zM32 7h1.04v1.04h-1.04zM12 8h2.04v1.04h-2.04zM31 8h1.04v1.04h-1.04zM14 9h1.04v1.04h-1.04zM3 10h1.04v1.04h-1.04zM3 11h1.04v1.04h-1.04zM33 13h1.04v1.04h-1.04zM30 15h1.04v1.04h-1.04zM33 17h1.04v1.04h-1.04zM32 18h2.04v1.04h-2.04zM15 22h1.04v1.04h-1.04zM32 23h1.04v1.04h-1.04zM31 25h1.04v1.04h-1.04zM34 25h1.04v1.04h-1.04zM30 26h1.04v1.04h-1.04zM5 29h1.04v1.04h-1.04zM7 29h1.04v1.04h-1.04zM28 29h1.04v1.04h-1.04zM7 30h1.04v1.04h-1.04zM1 31h1.04v1.04h-1.04zM7 31h2.04v1.04h-2.04zM11 31h1.04v1.04h-1.04zM11 33h1.04v1.04h-1.04zM20 33h1.04v1.04h-1.04zM3 34h1.04v1.04h-1.04zM14 34h1.04v1.04h-1.04z"/>
<path fill="#ff4200" d="M9 1h1.04v1.04h-1.04zM16 1h3.04v1.04h-3.04zM28 1h1.04v1.04h-1.04zM30 1h2.04v1.04h-2.04zM9 2h3.04v1.04h-3.04zM30 2h2.04v1.04h-2.04zM2 3h1.04v1.04h-1.04zM4 3h1.04v1.04h-1.04zM28 3h1.04v1.04h-1.04zM1 4h1.04v1.04h-1.04zM13 4h2.04v1.04h-2.04zM16 4h1.04v1.04h-1.04zM19 4h2.04v1.04h-2.04zM6 5h1.04v1.04h-1.04zM11 5h1.04v1.04h-1.04zM19 5h4.04v1.04h-4.04zM24 5h1.04v1.04h-1.04zM3 6h1.04v1.04h-1.04zM14 6h2.04v1.04h-2.04zM24 6h2.04v1.04h-2.04zM27 6h1.04v1.04h-1.04zM2 7h1.04v1.04h-1.04zM8 7h1.04v1.04h-1.04zM13 7h1.04v1.04h-1.04zM15 7h1.04v1.04h-1.04zM2 8h1.04v1.04h-1.04zM8 8h2.04v1.04h-2.04zM27 8h2.04v1.04h-2.04zM1 9h1.04v1.04h-1.04zM8 9h2.04v1.04h-2.04zM21 9h1.04v1.04h-1.04zM30 9h1.04v1.04h-1.04zM34 9h1.04v1.04h-1.04zM5 10h1.04v1.04h-1.04zM17 10h1.04v1.04h-1.04zM20 10h2.04v1.04h-2.04zM5 11h1.04v1.04h-1.04zM25 11h1.04v1.04h-1.04zM30 11h1.04v1.04h-1.04zM18 12h1.04v1.04h-1.04zM30 12h1.04v1.04h-1.04zM4 13h1.04v1.04h-1.04zM9 13h1.04v1.04h-1.04zM13 13h1.04v1.04h-1.04zM16 13h1.04v1.04h-1.04zM22 13h1.04v1.04h-1.04zM25 13h2.04v1.04h-2.04zM31 13h1.04v1.04h-1.04zM7 14h3.04v1.04h-3.04zM18 14h1.04v1.04h-1.04zM21 14h1.04v1.04h-1.04zM24 14h1.04v1.04h-1.04zM30 14h1.04v1.04h-1.04zM3 15h1.04v1.04h-1.04zM20 15h1.04v1.04h-1.04zM22 15h1.04v1.04h-1.04zM5 16h1.04v1.04h-1.04zM22 16h2.04v1.04h-2.04zM31 16h1.04v1.04h-1.04zM7 17h1.04v1.04h-1.04zM10 17h1.04v1.04h-1.04zM25 17h1.04v1.04h-1.04zM7 18h1.04v1.04h-1.04zM14 18h2.04v1.04h-2.04zM17 18h1.04v1.04h-1.04zM25 18h2.04v1.04h-2.04zM28 18h1.04v1.04h-1.04zM4 19h2.04v1.04h-2.04zM7 19h1.04v1.04h-1.04zM11 19h1.04v1.04h-1.04zM14 19h1.04v1.04h-1.04zM17 19h1.04v1.04h-1.04zM23 19h1.04v1.04h-1.04zM27 19h1.04v1.04h-1.04zM7 20h1.04v1.04h-1.04zM9 20h1.04v1.04h-1.04zM14 20h4.04v1.04h-4.04zM21 20h1.04v1.04h-1.04zM25 20h1.04v1.04h-1.04zM5 21h1.04v1.04h-1.04zM8 21h1.04v1.04h-1.04zM20 21h2.04v1.04h-2.04zM28 21h1.04v1.04h-1.04zM30 21h1.04v1.04h-1.04zM4 22h1.04v1.04h-1.04zM30 22h1.04v1.04h-1.04zM11 23h1.04v1.04h-1.04zM13 23h2.04v1.04h-2.04zM19 23h1.04v1.04h-1.04zM12 24h1.04v1.04h-1.04zM16 24h1.04v1.04h-1.04zM25 24h1.04v1.04h-1.04zM27 24h1.04v1.04h-1.04zM29 24h1.04v1.04h-1.04zM8 25h1.04v1.04h-1.04zM15 25h1.04v1.04h-1.04zM18 25h1.04v1.04h-1.04zM6 26h3.04v1.04h-3.04zM14 26h2.04v1.04h-2.04zM20 26h1.04v1.04h-1.04zM26 26h1.04v1.04h-1.04zM32 26h1.04v1.04h-1.04zM1 27h1.04v1.04h-1.04zM3 27h1.04v1.04h-1.04zM9 27h1.04v1.04h-1.04zM21 27h1.04v1.04h-1.04zM23 27h1.04v1.04h-1.04zM1 28h1.04v1.04h-1.04zM7 28h2.04v1.04h-2.04zM10 28h1.04v1.04h-1.04zM13 28h2.04v1.04h-2.04zM21 28h1.04v1.04h-1.04zM23 28h2.04v1.04h-2.04zM1 29h1.04v1.04h-1.04zM9 29h1.04v1.04h-1.04zM15 29h1.04v1.04h-1.04zM20 29h1.04v1.04h-1.04zM2 30h2.04v1.04h-2.04zM11 30h2.04v1.04h-2.04zM23 30h1.04v1.04h-1.04zM4 31h2.04v1.04h-2.04zM12 31h1.04v1.04h-1.04zM17 31h1.04v1.04h-1.04zM20 31h2.04v1.04h-2.04zM29 31h1.04v1.04h-1.04zM1 32h1.04v1.04h-1.04zM6 32h1.04v1.04h-1.04zM17 32h1.04v1.04h-1.04zM30 32h1.04v1.04h-1.04zM2 33h1.04v1.04h-1.04zM7 33h1.04v1.04h-1.04zM26 33h2.04v1.04h-2.04zM11 34h2.04v1.04h-2.04zM22 34h1.04v1.04h-1.04zM25 34h1.04v1.04h-1.04zM29 34h1.04v1.04h-1.04z"/>
<path fill="#ffc700" d="M10 1h1.04v1.04h-1.04zM4 2h3.04v1.04h-3.04zM27 2h1.04v1.04h-1.04zM16 3h2.04v1.04h-2.04zM21 3h2.04v1.04h-2.04zM12 4h1.04v1.04h-1.04zM25 4h1.04v1.04h-1.04zM26 5h1.04v1.04h-1.04zM28 5h1.04v1.04h-1.04zM5 6h1.04v1.04h-1.04zM29 6h1.04v1.04h-1.04zM5 7h1.04v1.04h-1.04zM28 7h1.04v1.04h-1.04zM4 8h1.04v1.04h-1.04zM12 9h1.04v1.04h-1.04zM31 9h1.04v1.04h-1.04zM32 10h1.04v1.04h-1.04zM2 11h1.04v1.04h-1.04zM4 11h1.04v1.04h-1.04zM31 11h1.04v1.04h-1.04zM4 12h1.04v1.04h-1.04zM32 12h1.04v1.04h-1.04zM21 13h1.04v1.04h-1.04zM32 13h1.04v1.04h-1.04zM5 14h1.04v1.04h-1.04zM33 16h1.04v1.04h-1.04zM3 17h1.04v1.04h-1.04zM31 17h1.04v1.04h-1.04zM24 18h1.04v1.04h-1.04zM24 20h1.04v1.04h-1.04zM33 20h1.04v1.04h-1.04zM3 21h1.04v1.04h-1.04zM16 21h1.04v1.04h-1.04zM16 22h1.04v1.04h-1.04zM31 22h1.04v1.04h-1.04zM34 22h1.04v1.04h-1.04zM34 23h1.04v1.04h-1.04zM30 24h1.04v1.04h-1.04zM33 25h1.04v1.04h-1.04zM5 26h1.04v1.04h-1.04zM16 26h1.04v1.04h-1.04zM29 26h1.04v1.04h-1.04zM33 26h1.04v1.04h-1.04zM33 27h1.04v1.04h-1.04zM28 28h1.04v1.04h-1.04zM25 29h2.04v1.04h-2.04zM30 30h2.04v1.04h-2.04zM27 31h1.04v1.04h-1.04zM34 31h1.04v1.04h-1.04zM21 32h1.04v1.04h-1.04zM28 32h1.04v1.04h-1.04zM31 33h1.04v1.04h-1.04zM21 34h1.04v1.04h-1.04zM33 34h1.04v1.04h-1.04z"/>
<path fill="#ff8000" d="M11 1h1.04v1.04h-1.04zM13 1h1.04v1.04h-1.04zM27 1h1.04v1.04h-1.04zM1 2h3.04v1.04h-3.04zM7 2h2.04v1.04h-2.04zM12 2h1.04v1.04h-1.04zM26 2h1.04v1.04h-1.04zM18 3h3.04v1.04h-3.04zM21 4h1.04v1.04h-1.04zM23 4h2.04v1.04h-2.04zM1 5h1.04v1.04h-1.04zM10 5h1.04v1.04h-1.04zM23 5h1.04v1.04h-1.04zM1 6h2.04v1.04h-2.04zM6 6h1.04v1.04h-1.04zM9 6h1.04v1.04h-1.04zM26 6h1.04v1.04h-1.04zM1 7h1.04v1.04h-1.04zM1 8h1.04v1.04h-1.04zM11 8h1.04v1.04h-1.04zM2 9h1.04v1.04h-1.04zM20 9h1.04v1.04h-1.04zM2 10h1.04v1.04h-1.04zM9 10h1.04v1.04h-1.04zM19 10h1.04v1.04h-1.04zM17 11h1.04v1.04h-1.04zM19 11h1.04v1.04h-1.04zM20 12h1.04v1.04h-1.04zM31 12h1.04v1.04h-1.04zM30 13h1.04v1.04h-1.04zM3 14h1.04v1.04h-1.04zM6 14h1.04v1.04h-1.04zM19 14h2.04v1.04h-2.04zM23 14h1.04v1.04h-1.04zM31 14h2.04v1.04h-2.04zM5 15h1.04v1.04h-1.04zM10 15h1.04v1.04h-1.04zM19 15h1.04v1.04h-1.04zM21 15h1.04v1.04h-1.04zM24 15h1.04v1.04h-1.04zM31 15h1.04v1.04h-1.04zM2 16h2.04v1.04h-2.04zM29 16h1.04v1.04h-1.04zM32 16h1.04v1.04h-1.04zM2 17h1.04v1.04h-1.04zM4 17h2.04v1.04h-2.04zM24 17h1.04v1.04h-1.04zM29 17h1.04v1.04h-1.04zM32 17h1.04v1.04h-1.04zM3 18h1.04v1.04h-1.04zM6 18h1.04v1.04h-1.04zM10 18h1.04v1.04h-1.04zM30 18h1.04v1.04h-1.04zM3 19h1.04v1.04h-1.04zM10 19h1.04v1.04h-1.04zM16 19h1.04v1.04h-1.04zM24 19h1.04v1.04h-1.04zM26 19h1.04v1.04h-1.04zM29 19h1.04v1.04h-1.04zM31 19h1.04v1.04h-1.04zM3 20h3.04v1.04h-3.04zM10 20h1.04v1.04h-1.04zM13 20h1.04v1.04h-1.04zM20 20h1.04v1.04h-1.04zM27 20h4.04v1.04h-4.04zM6 21h1.04v1.04h-1.04zM15 21h1.04v1.04h-1.04zM17 21h1.04v1.04h-1.04zM32 21h1.04v1.04h-1.04zM6 22h1.04v1.04h-1.04zM4 23h1.04v1.04h-1.04zM15 23h2.04v1.04h-2.04zM30 23h1.04v1.04h-1.04zM7 24h1.04v1.04h-1.04zM15 24h1.04v1.04h-1.04zM19 24h1.04v1.04h-1.04zM7 25h1.04v1.04h-1.04zM16 25h1.04v1.04h-1.04zM29 25h1.04v1.04h-1.04zM21 26h1.04v1.04h-1.04zM6 27h1.04v1.04h-1.04zM10 27h1.04v1.04h-1.04zM17 27h1.04v1.04h-1.04zM20 27h1.04v1.04h-1.04zM28 27h1.04v1.04h-1.04zM11 28h1.04v1.04h-1.04zM22 28h1.04v1.04h-1.04zM26 28h2.04v1.04h-2.04zM33 28h1.04v1.04h-1.04zM11 29h3.04v1.04h-3.04zM21 29h1.04v1.04h-1.04zM24 29h1.04v1.04h-1.04zM30 29h1.04v1.04h-1.04zM33 29h1.04v1.04h-1.04zM1 30h1.04v1.04h-1.04zM9 30h1.04v1.04h-1.04zM24 30h1.04v1.04h-1.04zM29 30h1.04v1.04h-1.04zM33 30h1.04v1.04h-1.04zM22 31h1.04v1.04h-1.04zM28 31h1.04v1.04h-1.04zM4 32h1.04v1.04h-1.04zM8 32h1.04v1.04h-1.04zM13 32h4.04v1.04h-4.04zM18 32h3.04v1.04h-3.04zM26 32h2.04v1.04h-2.04zM31 32h1.04v1.04h-1.04zM1 33h1.04v1.04h-1.04zM4 33h3.04v1.04h-3.04zM8 33h1.04v1.04h-1.04zM29 33h2.04v1.04h-2.04zM32 33h1.04v1.04h-1.04zM34 33h1.04v1.04h-1.04zM9 34h1.04v1.04h-1.04zM13 34h1.04v1.04h-1.04zM28 34h1.04v1.04h-1.04zM30 34h1.04v1.04h-1.04z"/>
<path fill="#ffff00" d="M12 1h1.04v1.04h-1.04zM26 4h1.04v1.04h-1.04zM25 5h1.04v1.04h-1.04zM27 5h1.04v1.04h-1.04zM29 7h1.04v1.04h-1.04zM29 8h1.04v1.04h-1.04zM13 9h1.04v1.04h-1.04zM19 9h1.04v1.04h-1.04zM13 10h1.04v1.04h-1.04zM18 10h1.04v1.04h-1.04zM31 10h1.04v1.04h-1.04zM18 11h1.04v1.04h-1.04zM20 13h1.04v1.04h-1.04zM22 14h1.04v1.04h-1.04zM4 15h1.04v1.04h-1.04zM23 15h1.04v1.04h-1.04zM2 18h1.04v1.04h-1.04zM5 18h1.04v1.04h-1.04zM2 19h1.04v1.04h-1.04zM34 19h1.04v1.04h-1.04zM6 20h1.04v1.04h-1.04zM1 21h1.04v1.04h-1.04zM32 22h1.04v1.04h-1.04zM6 23h1.04v1.04h-1.04zM4 24h1.04v1.04h-1.04zM6 24h1.04v1.04h-1.04zM31 24h1.04v1.04h-1.04zM6 28h1.04v1.04h-1.04zM8 29h1.04v1.04h-1.04zM23 29h1.04v1.04h-1.04zM27 29h1.04v1.04h-1.04zM8 30h1.04v1.04h-1.04zM10 30h1.04v1.04h-1.04zM25 30h2.04v1.04h-2.04zM2 31h2.04v1.04h-2.04zM23 31h1.04v1.04h-1.04zM3 32h1.04v1.04h-1.04zM22 32h1.04v1.04h-1.04zM10 33h1.04v1.04h-1.04zM34 34h1.04v1.04h-1.04z"/>
<path fill="#d60000" d="M14 1h1.04v1.04h-1.04zM20 1h1.04v1.04h-1.04zM22 1h2.04v1.04h-2.04zM32 1h3.04v1.04h-3.04zM32 2h1.04v1.04h-1.04zM34 3h1.04v1.04h-1.04zM2 4h1.04v1.04h-1.04zM4 4h2.04v1.04h-2.04zM7 4h1.04v1.04h-1.04zM15 5h1.04v1.04h-1.04zM17 5h2.04v1.04h-2.04zM31 5h3.04v1.04h-3.04zM10 6h1.04v1.04h-1.04zM23 6h1.04v1.04h-1.04zM33 6h1.04v1.04h-1.04zM11 7h1.04v1.04h-1.04zM20 7h1.04v1.04h-1.04zM23 7h1.04v1.04h-1.04zM26 7h1.04v1.04h-1.04zM3 8h1.04v1.04h-1.04zM10 8h1.04v1.04h-1.04zM17 8h1.04v1.04h-1.04zM21 8h1.04v1.04h-1.04zM25 8h1.04v1.04h-1.04zM34 8h1.04v1.04h-1.04zM6 9h2.04v1.04h-2.04zM10 9h1.04v1.04h-1.04zM17 9h1.04v1.04h-1.04zM28 9h1.04v1.04h-1.04zM1 10h1.04v1.04h-1.04zM25 10h1.04v1.04h-1.04zM27 10h2.04v1.04h-2.04zM30 10h1.04v1.04h-1.04zM1 11h1.04v1.04h-1.04zM9 11h3.04v1.04h-3.04zM15 11h1.04v1.04h-1.04zM20 11h5.04v1.04h-5.04zM27 11h1.04v1.04h-1.04zM21 12h2.04v1.04h-2.04zM28 12h1.04v1.04h-1.04zM10 13h1.04v1.04h-1.04zM19 13h1.04v1.04h-1.04zM24 13h1.04v1.04h-1.04zM28 13h2.04v1.04h-2.04zM12 14h1.04v1.04h-1.04zM15 14h2.04v1.04h-2.04zM29 14h1.04v1.04h-1.04zM13 15h3.04v1.04h-3.04zM25 15h1.04v1.04h-1.04zM32 15h1.04v1.04h-1.04zM6 16h1.04v1.04h-1.04zM13 16h4.04v1.04h-4.04zM16 17h1.04v1.04h-1.04zM27 17h1.04v1.04h-1.04zM11 18h3.04v1.04h-3.04zM21 18h1.04v1.04h-1.04zM23 18h1.04v1.04h-1.04zM18 19h1.04v1.04h-1.04zM26 20h1.04v1.04h-1.04zM4 21h1.04v1.04h-1.04zM18 21h2.04v1.04h-2.04zM24 21h1.04v1.04h-1.04zM1 22h1.04v1.04h-1.04zM5 22h1.04v1.04h-1.04zM13 22h1.04v1.04h-1.04zM23 22h2.04v1.04h-2.04zM27 22h1.04v1.04h-1.04zM9 23h1.04v1.04h-1.04zM22 23h8.04v1.04h-8.04zM23 24h1.04v1.04h-1.04zM1 25h2.04v1.04h-2.04zM9 25h2.04v1.04h-2.04zM14 25h1.04v1.04h-1.04zM26 25h2.04v1.04h-2.04zM10 26h1.04v1.04h-1.04zM24 26h1.04v1.04h-1.04zM27 26h1.04v1.04h-1.04zM2 27h1.04v1.04h-1.04zM26 27h1.04v1.04h-1.04zM16 28h2.04v1.04h-2.04zM19 28h1.04v1.04h-1.04zM2 29h1.04v1.04h-1.04zM17 29h3.04v1.04h-3.04zM32 29h1.04v1.04h-1.04zM4 30h2.04v1.04h-2.04zM14 30h1.04v1.04h-1.04zM19 30h1.04v1.04h-1.04zM32 32h1.04v1.04h-1.04zM25 33h1.04v1.04h-1.04zM24 34h1.04v1.04h-1.04z"/>
<path fill="#ad0000" d="M24 1h1.04v1.04h-1.04zM33 2h2.04v1.04h-2.04zM8 3h1.04v1.04h-1.04zM32 3h2.04v1.04h-2.04zM31 4h3.04v1.04h-3.04zM16 5h1.04v1.04h-1.04zM11 6h1.04v1.04h-1.04zM16 6h2.04v1.04h-2.04zM3 7h2.04v1.04h-2.04zM21 7h2.04v1.04h-2.04zM14 8h1.04v1.04h-1.04zM22 8h1.04v1.04h-1.04zM15 9h1.04v1.04h-1.04zM24 9h1.04v1.04h-1.04zM23 10h2.04v1.04h-2.04zM14 11h1.04v1.04h-1.04zM28 11h1.04v1.04h-1.04zM10 12h2.04v1.04h-2.04zM29 12h1.04v1.04h-1.04zM1 13h1.04v1.04h-1.04zM16 15h1.04v1.04h-1.04zM8 16h1.04v1.04h-1.04zM24 16h1.04v1.04h-1.04zM26 16h1.04v1.04h-1.04zM6 17h1.04v1.04h-1.04zM19 17h1.04v1.04h-1.04zM22 17h1.04v1.04h-1.04zM22 18h1.04v1.04h-1.04zM9 19h1.04v1.04h-1.04zM13 21h1.04v1.04h-1.04zM22 21h2.04v1.04h-2.04zM26 21h2.04v1.04h-2.04zM8 22h1.04v1.04h-1.04zM12 22h1.04v1.04h-1.04zM19 22h1.04v1.04h-1.04zM22 22h1.04v1.04h-1.04zM25 22h2.04v1.04h-2.04zM8 23h1.04v1.04h-1.04zM9 24h1.04v1.04h-1.04zM21 24h2.04v1.04h-2.04zM28 24h1.04v1.04h-1.04zM21 25h1.04v1.04h-1.04zM12 27h1.04v1.04h-1.04zM2 28h2.04v1.04h-2.04zM18 28h1.04v1.04h-1.04zM32 28h1.04v1.04h-1.04zM3 29h2.04v1.04h-2.04zM10 29h1.04v1.04h-1.04zM15 30h1.04v1.04h-1.04zM20 30h1.04v1.04h-1.04zM32 30h1.04v1.04h-1.04zM6 31h1.04v1.04h-1.04zM13 31h4.04v1.04h-4.04zM19 31h1.04v1.04h-1.04zM10 34h1.04v1.04h-1.04zM23 34h1.04v1.04h-1.04zM31 34h1.04v1.04h-1.04z"/>
<path fill="#c7ff38" d="M26 1h1.04v1.04h-1.04zM25 2h1.04v1.04h-1.04zM28 2h1.04v1.04h-1.04zM14 3h2.04v1.04h-2.04zM23 3h1.04v1.04h-1.04zM11 4h1.04v1.04h-1.04zM27 4h1.04v1.04h-1.04zM7 5h3.04v1.04h-3.04zM29 5h1.04v1.04h-1.04zM8 6h1.04v1.04h-1.04zM28 6h1.04v1.04h-1.04zM7 7h1.04v1.04h-1.04zM30 7h2.04v1.04h-2.04zM6 8h1.04v1.04h-1.04zM30 8h1.04v1.04h-1.04zM5 9h1.04v1.04h-1.04zM32 9h1.04v1.04h-1.04zM12 10h1.04v1.04h-1.04zM32 11h1.04v1.04h-1.04zM3 12h1.04v1.04h-1.04zM19 12h1.04v1.04h-1.04zM3 13h1.04v1.04h-1.04zM1 14h1.04v1.04h-1.04zM33 14h1.04v1.04h-1.04zM2 15h1.04v1.04h-1.04zM33 15h1.04v1.04h-1.04zM4 16h1.04v1.04h-1.04zM34 18h1.04v1.04h-1.04zM6 19h1.04v1.04h-1.04zM25 19h1.04v1.04h-1.04zM33 19h1.04v1.04h-1.04zM2 20h1.04v1.04h-1.04zM31 20h1.04v1.04h-1.04zM34 20h1.04v1.04h-1.04zM31 21h1.04v1.04h-1.04zM33 21h1.04v1.04h-1.04zM3 22h1.04v1.04h-1.04zM31 23h1.04v1.04h-1.04zM34 24h1.04v1.04h-1.04zM4 25h1.04v1.04h-1.04zM30 25h1.04v1.04h-1.04zM32 25h1.04v1.04h-1.04zM29 27h1.04v1.04h-1.04zM30 28h1.04v1.04h-1.04zM29 29h1.04v1.04h-1.04zM27 30h1.04v1.04h-1.04zM9 31h2.04v1.04h-2.04zM24 31h1.04v1.04h-1.04zM30 31h1.04v1.04h-1.04zM12 32h1.04v1.04h-1.04zM23 32h1.04v1.04h-1.04zM29 32h1.04v1.04h-1.04zM3 33h1.04v1.04h-1.04zM17 33h1.04v1.04h-1.04zM28 33h1.04v1.04h-1.04zM32 34h1.04v1.04h-1.04z"/>
<path fill="#00ffff" d="M13 2h1.04v1.04h-1.04zM10 3h3.04v1.04h-3.04zM27 3h1.04v1.04h-1.04zM9 4h1.04v1.04h-1.04zM28 4h1.04v1.04h-1.04zM30 5h1.04v1.04h-1.04zM7 6h1.04v1.04h-1.04zM32 8h2.04v1.04h-2.04zM14 10h1.04v1.04h-1.04zM33 10h1.04v1.04h-1.04zM12 11h1.04v1.04h-1.04zM33 11h1.04v1.04h-1.04zM2 14h1.04v1.04h-1.04zM30 16h1.04v1.04h-1.04zM32 19h1.04v1.04h-1.04zM2 23h2.04v1.04h-2.04zM33 24h1.04v1.04h-1.04zM30 27h1.04v1.04h-1.04zM34 30h1.04v1.04h-1.04zM9 32h1.04v1.04h-1.04zM14 33h1.04v1.04h-1.04zM21 33h2.04v1.04h-2.04zM1 34h2.04v1.04h-2.04zM4 34h1.04v1.04h-1.04zM20 34h1.04v1.04h-1.04z"/>
<path fill="#004dff" d="M16 2h4.04v1.04h-4.04zM24 2h1.04v1.04h-1.04zM29 4h1.04v1.04h-1.04zM4 9h1.04v1.04h-1.04zM11 10h1.04v1.04h-1.04zM34 14h1.04v1.04h-1.04zM34 16h1.04v1.04h-1.04zM34 17h1.04v1.04h-1.04zM1 20h1.04v1.04h-1.04zM2 22h1.04v1.04h-1.04zM33 23h1.04v1.04h-1.04zM4 27h1.04v1.04h-1.04zM12 33h1.04v1.04h-1.04zM23 33h1.04v1.04h-1.04zM5 34h2.04v1.04h-2.04zM19 34h1.04v1.04h-1.04z"/>
<path fill="#38ffc7" d="M24 3h3.04v1.04h-3.04zM10 4h1.04v1.04h-1.04zM30 6h2.04v1.04h-2.04zM6 7h1.04v1.04h-1.04zM5 8h1.04v1.04h-1.04zM4 10h1.04v1.04h-1.04zM34 11h1.04v1.04h-1.04zM34 12h1.04v1.04h-1.04zM34 13h1.04v1.04h-1.04zM31 18h1.04v1.04h-1.04zM34 21h1.04v1.04h-1.04zM33 22h1.04v1.04h-1.04zM32 24h1.04v1.04h-1.04zM4 26h1.04v1.04h-1.04zM31 26h1.04v1.04h-1.04zM5 27h1.04v1.04h-1.04zM5 28h1.04v1.04h-1.04zM29 28h1.04v1.04h-1.04zM6 29h1.04v1.04h-1.04zM6 30h1.04v1.04h-1.04zM28 30h1.04v1.04h-1.04zM25 31h2.04v1.04h-2.04zM11 32h1.04v1.04h-1.04zM24 32h1.04v1.04h-1.04zM15 33h2.04v1.04h-2.04zM18 33h2.04v1.04h-2.04zM7 34h2.04v1.04h-2.04z"/>
</svg>
<div class="cb" style="left:652.1px;top:24.5px;width:9.4px;height:260.9px"></div><div class="lb" style="left:664.8px;top:281px">0</div><div class="tk" style="left:659px;top:258.81px"></div><div class="lb" style="left:664.8px;top:254.91px">10</div><div class="tk" style="left:659px;top:232.72px"></div><div class="lb" style="left:664.8px;top:228.82px">20</div><div class="tk" style="left:659px;top:206.63px"></div><div class="lb" style="left:664.8px;top:202.73px">30</div><div class="tk" style="left:659px;top:180.54px"></div><div class="lb" style="left:664.8px;top:176.64px">40</div><div class="tk" style="left:659px;top:154.45px"></div><div class="lb" style="left:664.8px;top:150.55px">50</div><div class="tk" style="left:659px;top:128.36px"></div><div class="lb" style="left:664.8px;top:124.46px">60</div><div class="tk" style="left:659px;top:102.27px"></div><div class="lb" style="left:664.8px;top:98.37px">70</div><div class="tk" style="left:659px;top:76.18px"></div><div class="lb" style="left:664.8px;top:72.28px">80</div><div class="tk" style="left:659px;top:50.09px"></div><div class="lb" style="left:664.8px;top:46.19px">90</div><div class="lb" style="left:664.8px;top:20.1px">100</div>
<div class="tt t1" style="left:362.5px">F24_03: Homogeneity - percentages</div>
<div class="cap" style="left:501px;top:301px">(b)</div>
<svg class="hm" style="left:748.3px;top:25px" width="261" height="260" viewBox="0 0 36 36" preserveAspectRatio="none">
<rect width="36" height="36" fill="#800000"/>
<path fill="#00008c" d="M1 1h2.04v1.04h-2.04zM9 1h1.04v1.04h-1.04zM17 1h2.04v1.04h-2.04zM20 1h2.04v1.04h-2.04zM31 1h1.04v1.04h-1.04zM1 2h1.04v1.04h-1.04zM7 2h3.04v1.04h-3.04zM12 2h6.04v1.04h-6.04zM21 2h6.04v1.04h-6.04zM30 2h3.04v1.04h-3.04zM6 3h6.04v1.04h-6.04zM19 3h6.04v1.04h-6.04zM28 3h1.04v1.04h-1.04zM31 3h1.04v1.04h-1.04zM34 3h1.04v1.04h-1.04zM1 4h1.04v1.04h-1.04zM29 4h1.04v1.04h-1.04zM4 5h2.04v1.04h-2.04zM30 5h2.04v1.04h-2.04zM5 6h1.04v1.04h-1.04zM4 7h1.04v1.04h-1.04zM32 7h3.04v1.04h-3.04zM33 8h1.04v1.04h-1.04zM3 9h1.04v1.04h-1.04zM2 10h1.04v1.04h-1.04zM1 12h1.04v1.04h-1.04zM2 21h1.04v1.04h-1.04zM2 22h1.04v1.04h-1.04zM1 23h1.04v1.04h-1.04zM2 24h1.04v1.04h-1.04zM4 24h1.04v1.04h-1.04zM2 25h1.04v1.04h-1.04zM5 25h1.04v1.04h-1.04zM1 26h3.04v1.04h-3.04zM1 27h1.04v1.04h-1.04zM6 27h1.04v1.04h-1.04zM1 28h1.04v1.04h-1.04zM6 28h1.04v1.04h-1.04zM3 30h2.04v1.04h-2.04zM8 30h1.04v1.04h-1.04zM34 30h1.04v1.04h-1.04zM5 31h1.04v1.04h-1.04zM6 32h1.04v1.04h-1.04zM5 33h1.04v1.04h-1.04zM4 34h1.04v1.04h-1.04zM19 34h1.04v1.04h-1.04z"/>
<path fill="#00ffff" d="M10 1h1.04v1.04h-1.04zM12 1h2.04v1.04h-2.04zM19 1h1.04v1.04h-1.04zM10 2h1.04v1.04h-1.04zM6 4h1.04v1.04h-1.04zM26 4h1.04v1.04h-1.04zM28 4h1.04v1.04h-1.04zM26 5h1.04v1.04h-1.04zM29 5h1.04v1.04h-1.04zM33 6h1.04v1.04h-1.04zM31 7h1.04v1.04h-1.04zM4 8h1.04v1.04h-1.04zM8 8h1.04v1.04h-1.04zM30 8h1.04v1.04h-1.04zM5 9h2.04v1.04h-2.04zM32 9h1.04v1.04h-1.04zM34 9h1.04v1.04h-1.04zM4 10h1.04v1.04h-1.04zM34 10h1.04v1.04h-1.04zM4 11h1.04v1.04h-1.04zM33 11h2.04v1.04h-2.04zM2 12h1.04v1.04h-1.04zM1 13h1.04v1.04h-1.04zM1 14h1.04v1.04h-1.04zM1 17h1.04v1.04h-1.04zM1 19h1.04v1.04h-1.04zM2 20h2.04v1.04h-2.04zM4 23h1.04v1.04h-1.04zM6 24h1.04v1.04h-1.04zM6 25h1.04v1.04h-1.04zM9 25h1.04v1.04h-1.04zM34 25h1.04v1.04h-1.04zM4 26h1.04v1.04h-1.04zM33 26h1.04v1.04h-1.04zM5 28h1.04v1.04h-1.04zM10 28h1.04v1.04h-1.04zM33 28h1.04v1.04h-1.04zM8 29h1.04v1.04h-1.04zM9 30h1.04v1.04h-1.04zM31 30h2.04v1.04h-2.04zM7 31h1.04v1.04h-1.04zM10 31h1.04v1.04h-1.04zM15 31h1.04v1.04h-1.04zM32 31h1.04v1.04h-1.04zM18 32h1.04v1.04h-1.04zM32 32h1.04v1.04h-1.04zM7 33h1.04v1.04h-1.04zM9 34h1.04v1.04h-1.04z"/>
<path fill="#80ff80" d="M11 1h1.04v1.04h-1.04zM6 5h1.04v1.04h-1.04zM25 5h1.04v1.04h-1.04zM34 6h1.04v1.04h-1.04zM29 7h1.04v1.04h-1.04zM8 9h2.04v1.04h-2.04zM31 9h1.04v1.04h-1.04zM9 10h1.04v1.04h-1.04zM14 11h1.04v1.04h-1.04zM33 12h1.04v1.04h-1.04zM2 14h1.04v1.04h-1.04zM12 14h1.04v1.04h-1.04zM5 22h1.04v1.04h-1.04zM13 22h1.04v1.04h-1.04zM31 22h1.04v1.04h-1.04zM6 23h1.04v1.04h-1.04zM7 24h1.04v1.04h-1.04zM34 24h1.04v1.04h-1.04zM33 25h1.04v1.04h-1.04zM34 26h1.04v1.04h-1.04zM34 27h1.04v1.04h-1.04zM31 29h1.04v1.04h-1.04zM34 29h1.04v1.04h-1.04zM13 30h1.04v1.04h-1.04zM29 31h2.04v1.04h-2.04zM19 32h1.04v1.04h-1.04zM22 32h2.04v1.04h-2.04zM34 33h1.04v1.04h-1.04z"/>
<path fill="#38ffc7" d="M14 1h1.04v1.04h-1.04zM8 4h1.04v1.04h-1.04zM22 4h1.04v1.04h-1.04zM27 4h1.04v1.04h-1.04zM28 6h1.04v1.04h-1.04zM4 9h1.04v1.04h-1.04zM5 10h1.04v1.04h-1.04zM32 10h1.04v1.04h-1.04zM3 13h1.04v1.04h-1.04zM31 13h1.04v1.04h-1.04zM33 15h1.04v1.04h-1.04zM7 25h2.04v1.04h-2.04zM7 26h1.04v1.04h-1.04zM2 27h1.04v1.04h-1.04zM4 27h1.04v1.04h-1.04zM10 27h1.04v1.04h-1.04zM4 28h1.04v1.04h-1.04zM8 28h1.04v1.04h-1.04zM32 28h1.04v1.04h-1.04zM6 29h1.04v1.04h-1.04zM10 29h1.04v1.04h-1.04zM33 29h1.04v1.04h-1.04zM11 30h1.04v1.04h-1.04zM29 30h1.04v1.04h-1.04zM28 31h1.04v1.04h-1.04zM12 32h1.04v1.04h-1.04zM15 32h2.04v1.04h-2.04zM10 33h1.04v1.04h-1.04zM6 34h1.04v1.04h-1.04zM24 34h2.04v1.04h-2.04z"/>
<path fill="#00b2ff" d="M15 1h1.04v1.04h-1.04zM23 4h1.04v1.04h-1.04zM34 4h1.04v1.04h-1.04zM28 5h1.04v1.04h-1.04zM33 5h1.04v1.04h-1.04zM7 6h1.04v1.04h-1.04zM32 6h1.04v1.04h-1.04zM5 7h1.04v1.04h-1.04zM7 7h2.04v1.04h-2.04zM5 8h2.04v1.04h-2.04zM31 8h1.04v1.04h-1.04zM33 10h1.04v1.04h-1.04zM3 11h1.04v1.04h-1.04zM3 12h2.04v1.04h-2.04zM34 12h1.04v1.04h-1.04zM2 13h1.04v1.04h-1.04zM11 13h1.04v1.04h-1.04zM13 13h1.04v1.04h-1.04zM4 19h1.04v1.04h-1.04zM1 20h1.04v1.04h-1.04zM5 26h1.04v1.04h-1.04zM8 26h1.04v1.04h-1.04zM7 28h1.04v1.04h-1.04zM9 28h1.04v1.04h-1.04zM34 28h1.04v1.04h-1.04zM4 29h1.04v1.04h-1.04zM9 29h1.04v1.04h-1.04zM11 29h1.04v1.04h-1.04zM32 29h1.04v1.04h-1.04zM5 30h1.04v1.04h-1.04zM10 30h1.04v1.04h-1.04zM30 30h1.04v1.04h-1.04zM6 31h1.04v1.04h-1.04zM11 31h2.04v1.04h-2.04zM31 31h1.04v1.04h-1.04zM11 32h1.04v1.04h-1.04zM17 32h1.04v1.04h-1.04zM24 32h1.04v1.04h-1.04zM31 32h1.04v1.04h-1.04zM32 33h1.04v1.04h-1.04zM7 34h1.04v1.04h-1.04zM17 34h1.04v1.04h-1.04z"/>
<path fill="#004dff" d="M16 1h1.04v1.04h-1.04zM20 2h1.04v1.04h-1.04zM14 3h1.04v1.04h-1.04zM27 3h1.04v1.04h-1.04zM5 4h1.04v1.04h-1.04zM7 4h1.04v1.04h-1.04zM24 4h2.04v1.04h-2.04zM7 5h1.04v1.04h-1.04zM27 5h1.04v1.04h-1.04zM6 6h1.04v1.04h-1.04zM29 6h1.04v1.04h-1.04zM31 6h1.04v1.04h-1.04zM6 7h1.04v1.04h-1.04zM30 7h1.04v1.04h-1.04zM32 8h1.04v1.04h-1.04zM2 11h1.04v1.04h-1.04zM12 13h1.04v1.04h-1.04zM34 13h1.04v1.04h-1.04zM1 18h1.04v1.04h-1.04zM3 19h1.04v1.04h-1.04zM3 21h1.04v1.04h-1.04zM3 22h1.04v1.04h-1.04zM1 24h1.04v1.04h-1.04zM1 25h1.04v1.04h-1.04zM6 26h1.04v1.04h-1.04zM8 27h1.04v1.04h-1.04zM33 27h1.04v1.04h-1.04zM2 29h2.04v1.04h-2.04zM6 30h1.04v1.04h-1.04zM12 30h1.04v1.04h-1.04zM8 31h1.04v1.04h-1.04zM10 32h1.04v1.04h-1.04zM25 32h1.04v1.04h-1.04zM33 32h1.04v1.04h-1.04zM6 33h1.04v1.04h-1.04zM17 33h2.04v1.04h-2.04zM23 33h1.04v1.04h-1.04z"/>
<path fill="#0000e6" d="M11 2h1.04v1.04h-1.04zM18 2h2.04v1.04h-2.04zM12 3h2.04v1.04h-2.04zM15 3h4.04v1.04h-4.04zM25 3h2.04v1.04h-2.04zM33 9h1.04v1.04h-1.04zM3 10h1.04v1.04h-1.04zM2 19h1.04v1.04h-1.04zM3 23h1.04v1.04h-1.04zM5 24h1.04v1.04h-1.04zM9 26h1.04v1.04h-1.04zM9 27h1.04v1.04h-1.04zM5 29h1.04v1.04h-1.04zM33 30h1.04v1.04h-1.04zM13 31h2.04v1.04h-2.04zM9 32h1.04v1.04h-1.04zM26 32h2.04v1.04h-2.04zM19 33h4.04v1.04h-4.04zM24 33h1.04v1.04h-1.04zM8 34h1.04v1.04h-1.04zM18 34h1.04v1.04h-1.04zM20 34h4.04v1.04h-4.04z"/>
<path fill="#c7ff38" d="M9 4h1.04v1.04h-1.04zM13 4h2.04v1.04h-2.04zM17 4h1.04v1.04h-1.04zM19 4h1.04v1.04h-1.04zM21 4h1.04v1.04h-1.04zM8 5h1.04v1.04h-1.04zM10 5h1.04v1.04h-1.04zM12 5h1.04v1.04h-1.04zM34 5h1.04v1.04h-1.04zM8 6h2.04v1.04h-2.04zM17 6h1.04v1.04h-1.04zM27 6h1.04v1.04h-1.04zM30 6h1.04v1.04h-1.04zM7 8h1.04v1.04h-1.04zM18 8h1.04v1.04h-1.04zM6 10h1.04v1.04h-1.04zM17 10h1.04v1.04h-1.04zM31 10h1.04v1.04h-1.04zM5 11h1.04v1.04h-1.04zM9 11h1.04v1.04h-1.04zM15 11h2.04v1.04h-2.04zM32 11h1.04v1.04h-1.04zM13 12h2.04v1.04h-2.04zM14 13h1.04v1.04h-1.04zM11 14h1.04v1.04h-1.04zM33 14h2.04v1.04h-2.04zM1 15h1.04v1.04h-1.04zM34 15h1.04v1.04h-1.04zM1 16h1.04v1.04h-1.04zM33 16h1.04v1.04h-1.04zM33 17h1.04v1.04h-1.04zM2 18h1.04v1.04h-1.04zM4 20h1.04v1.04h-1.04zM4 21h2.04v1.04h-2.04zM31 21h1.04v1.04h-1.04zM4 22h1.04v1.04h-1.04zM6 22h1.04v1.04h-1.04zM5 23h1.04v1.04h-1.04zM7 23h2.04v1.04h-2.04zM31 23h1.04v1.04h-1.04zM8 24h2.04v1.04h-2.04zM31 24h1.04v1.04h-1.04zM30 25h1.04v1.04h-1.04zM10 26h1.04v1.04h-1.04zM3 27h1.04v1.04h-1.04zM5 27h1.04v1.04h-1.04zM7 27h1.04v1.04h-1.04zM32 27h1.04v1.04h-1.04zM2 28h1.04v1.04h-1.04zM11 28h1.04v1.04h-1.04zM7 29h1.04v1.04h-1.04zM21 29h1.04v1.04h-1.04zM7 30h1.04v1.04h-1.04zM16 31h1.04v1.04h-1.04zM27 31h1.04v1.04h-1.04zM7 32h2.04v1.04h-2.04zM20 32h2.04v1.04h-2.04zM28 32h1.04v1.04h-1.04zM8 33h2.04v1.04h-2.04zM31 33h1.04v1.04h-1.04zM33 33h1.04v1.04h-1.04zM5 34h1.04v1.04h-1.04zM26 34h1.04v1.04h-1.04zM32 34h1.04v1.04h-1.04zM34 34h1.04v1.04h-1.04z"/>
<path fill="#ffc700" d="M10 4h3.04v1.04h-3.04zM15 4h1.04v1.04h-1.04zM9 5h1.04v1.04h-1.04zM13 5h1.04v1.04h-1.04zM15 5h1.04v1.04h-1.04zM17 5h1.04v1.04h-1.04zM24 5h1.04v1.04h-1.04zM18 6h1.04v1.04h-1.04zM26 6h1.04v1.04h-1.04zM17 7h1.04v1.04h-1.04zM9 8h1.04v1.04h-1.04zM29 8h1.04v1.04h-1.04zM7 9h1.04v1.04h-1.04zM14 10h3.04v1.04h-3.04zM7 11h1.04v1.04h-1.04zM10 11h1.04v1.04h-1.04zM33 13h1.04v1.04h-1.04zM13 14h1.04v1.04h-1.04zM7 16h2.04v1.04h-2.04zM2 17h1.04v1.04h-1.04zM18 17h1.04v1.04h-1.04zM3 18h1.04v1.04h-1.04zM16 18h2.04v1.04h-2.04zM32 18h2.04v1.04h-2.04zM16 19h1.04v1.04h-1.04zM5 20h1.04v1.04h-1.04zM14 20h1.04v1.04h-1.04zM6 21h1.04v1.04h-1.04zM13 21h2.04v1.04h-2.04zM34 21h1.04v1.04h-1.04zM7 22h1.04v1.04h-1.04zM13 23h1.04v1.04h-1.04zM14 24h1.04v1.04h-1.04zM18 26h1.04v1.04h-1.04zM28 26h1.04v1.04h-1.04zM19 27h1.04v1.04h-1.04zM25 27h1.04v1.04h-1.04zM3 28h1.04v1.04h-1.04zM20 28h1.04v1.04h-1.04zM14 30h1.04v1.04h-1.04zM23 30h2.04v1.04h-2.04zM17 31h1.04v1.04h-1.04zM22 31h2.04v1.04h-2.04zM16 33h1.04v1.04h-1.04zM25 33h1.04v1.04h-1.04zM10 34h1.04v1.04h-1.04zM16 34h1.04v1.04h-1.04zM27 34h1.04v1.04h-1.04zM30 34h1.04v1.04h-1.04z"/>
<path fill="#ffff00" d="M16 4h1.04v1.04h-1.04zM18 4h1.04v1.04h-1.04zM11 5h1.04v1.04h-1.04zM14 5h1.04v1.04h-1.04zM18 7h1.04v1.04h-1.04zM28 7h1.04v1.04h-1.04zM17 9h2.04v1.04h-2.04zM30 9h1.04v1.04h-1.04zM8 10h1.04v1.04h-1.04zM5 12h1.04v1.04h-1.04zM10 12h3.04v1.04h-3.04zM15 12h1.04v1.04h-1.04zM4 13h1.04v1.04h-1.04zM10 13h1.04v1.04h-1.04zM32 13h1.04v1.04h-1.04zM3 14h1.04v1.04h-1.04zM32 14h1.04v1.04h-1.04zM18 16h4.04v1.04h-4.04zM6 17h1.04v1.04h-1.04zM31 19h1.04v1.04h-1.04zM15 20h1.04v1.04h-1.04zM32 22h1.04v1.04h-1.04zM32 23h1.04v1.04h-1.04zM34 23h1.04v1.04h-1.04zM17 24h1.04v1.04h-1.04zM17 25h2.04v1.04h-2.04zM28 25h1.04v1.04h-1.04zM31 28h1.04v1.04h-1.04zM12 29h1.04v1.04h-1.04zM20 29h1.04v1.04h-1.04zM30 29h1.04v1.04h-1.04zM21 30h2.04v1.04h-2.04zM28 30h1.04v1.04h-1.04zM14 32h1.04v1.04h-1.04zM11 33h1.04v1.04h-1.04zM26 33h1.04v1.04h-1.04zM31 34h1.04v1.04h-1.04z"/>
<path fill="#ff8000" d="M20 4h1.04v1.04h-1.04zM16 5h1.04v1.04h-1.04zM18 5h1.04v1.04h-1.04zM22 5h2.04v1.04h-2.04zM10 6h1.04v1.04h-1.04zM12 6h1.04v1.04h-1.04zM15 6h2.04v1.04h-2.04zM9 7h1.04v1.04h-1.04zM11 7h1.04v1.04h-1.04zM16 7h1.04v1.04h-1.04zM10 8h1.04v1.04h-1.04zM16 8h2.04v1.04h-2.04zM19 8h1.04v1.04h-1.04zM10 9h1.04v1.04h-1.04zM14 9h3.04v1.04h-3.04zM7 10h1.04v1.04h-1.04zM10 10h1.04v1.04h-1.04zM6 11h1.04v1.04h-1.04zM8 11h1.04v1.04h-1.04zM13 11h1.04v1.04h-1.04zM29 11h1.04v1.04h-1.04zM6 12h1.04v1.04h-1.04zM9 12h1.04v1.04h-1.04zM29 12h1.04v1.04h-1.04zM32 12h1.04v1.04h-1.04zM29 13h2.04v1.04h-2.04zM10 14h1.04v1.04h-1.04zM28 14h4.04v1.04h-4.04zM3 15h2.04v1.04h-2.04zM8 15h2.04v1.04h-2.04zM11 15h1.04v1.04h-1.04zM27 15h2.04v1.04h-2.04zM32 15h1.04v1.04h-1.04zM2 16h1.04v1.04h-1.04zM4 16h1.04v1.04h-1.04zM10 16h1.04v1.04h-1.04zM22 16h1.04v1.04h-1.04zM27 16h2.04v1.04h-2.04zM32 16h1.04v1.04h-1.04zM7 17h1.04v1.04h-1.04zM16 17h2.04v1.04h-2.04zM19 17h2.04v1.04h-2.04zM24 17h2.04v1.04h-2.04zM32 17h1.04v1.04h-1.04zM4 18h2.04v1.04h-2.04zM25 18h1.04v1.04h-1.04zM31 18h1.04v1.04h-1.04zM5 19h1.04v1.04h-1.04zM14 19h2.04v1.04h-2.04zM17 19h1.04v1.04h-1.04zM30 19h1.04v1.04h-1.04zM32 19h2.04v1.04h-2.04zM16 20h2.04v1.04h-2.04zM30 20h2.04v1.04h-2.04zM7 21h1.04v1.04h-1.04zM15 21h1.04v1.04h-1.04zM19 21h2.04v1.04h-2.04zM30 21h1.04v1.04h-1.04zM8 22h1.04v1.04h-1.04zM14 22h1.04v1.04h-1.04zM33 22h2.04v1.04h-2.04zM9 23h1.04v1.04h-1.04zM14 23h1.04v1.04h-1.04zM16 23h1.04v1.04h-1.04zM33 23h1.04v1.04h-1.04zM15 24h2.04v1.04h-2.04zM30 24h1.04v1.04h-1.04zM32 24h2.04v1.04h-2.04zM10 25h1.04v1.04h-1.04zM15 25h2.04v1.04h-2.04zM27 25h1.04v1.04h-1.04zM29 25h1.04v1.04h-1.04zM31 25h1.04v1.04h-1.04zM19 26h1.04v1.04h-1.04zM25 26h1.04v1.04h-1.04zM29 26h2.04v1.04h-2.04zM32 26h1.04v1.04h-1.04zM11 27h1.04v1.04h-1.04zM16 27h1.04v1.04h-1.04zM20 27h1.04v1.04h-1.04zM16 28h1.04v1.04h-1.04zM19 28h1.04v1.04h-1.04zM22 28h4.04v1.04h-4.04zM17 29h1.04v1.04h-1.04zM22 29h3.04v1.04h-3.04zM29 29h1.04v1.04h-1.04zM15 30h2.04v1.04h-2.04zM18 30h3.04v1.04h-3.04zM24 31h3.04v1.04h-3.04zM13 32h1.04v1.04h-1.04zM30 32h1.04v1.04h-1.04zM13 33h1.04v1.04h-1.04zM30 33h1.04v1.04h-1.04zM28 34h2.04v1.04h-2.04zM33 34h1.04v1.04h-1.04z"/>
<path fill="#ff4200" d="M19 5h3.04v1.04h-3.04zM11 6h1.04v1.04h-1.04zM13 6h2.04v1.04h-2.04zM25 6h1.04v1.04h-1.04zM10 7h1.04v1.04h-1.04zM15 7h1.04v1.04h-1.04zM19 7h1.04v1.04h-1.04zM22 7h1.04v1.04h-1.04zM27 7h1.04v1.04h-1.04zM13 8h1.04v1.04h-1.04zM15 8h1.04v1.04h-1.04zM21 8h1.04v1.04h-1.04zM28 8h1.04v1.04h-1.04zM11 11h1.04v1.04h-1.04zM30 11h2.04v1.04h-2.04zM7 12h1.04v1.04h-1.04zM30 12h1.04v1.04h-1.04zM5 13h1.04v1.04h-1.04zM9 13h1.04v1.04h-1.04zM15 13h1.04v1.04h-1.04zM28 13h1.04v1.04h-1.04zM9 14h1.04v1.04h-1.04zM27 14h1.04v1.04h-1.04zM7 15h1.04v1.04h-1.04zM12 15h1.04v1.04h-1.04zM20 15h2.04v1.04h-2.04zM29 15h3.04v1.04h-3.04zM5 16h2.04v1.04h-2.04zM9 16h1.04v1.04h-1.04zM17 16h1.04v1.04h-1.04zM23 16h1.04v1.04h-1.04zM26 16h1.04v1.04h-1.04zM34 16h1.04v1.04h-1.04zM4 17h2.04v1.04h-2.04zM11 17h1.04v1.04h-1.04zM21 17h2.04v1.04h-2.04zM26 17h3.04v1.04h-3.04zM34 17h1.04v1.04h-1.04zM15 18h1.04v1.04h-1.04zM18 18h3.04v1.04h-3.04zM22 18h2.04v1.04h-2.04zM26 18h1.04v1.04h-1.04zM30 18h1.04v1.04h-1.04zM34 18h1.04v1.04h-1.04zM18 19h1.04v1.04h-1.04zM25 19h1.04v1.04h-1.04zM6 20h1.04v1.04h-1.04zM13 20h1.04v1.04h-1.04zM18 20h2.04v1.04h-2.04zM29 20h1.04v1.04h-1.04zM32 20h1.04v1.04h-1.04zM16 21h3.04v1.04h-3.04zM21 21h1.04v1.04h-1.04zM32 21h1.04v1.04h-1.04zM12 22h1.04v1.04h-1.04zM16 22h3.04v1.04h-3.04zM21 22h2.04v1.04h-2.04zM30 22h1.04v1.04h-1.04zM12 23h1.04v1.04h-1.04zM15 23h1.04v1.04h-1.04zM17 23h1.04v1.04h-1.04zM30 23h1.04v1.04h-1.04zM10 24h1.04v1.04h-1.04zM13 24h1.04v1.04h-1.04zM18 24h1.04v1.04h-1.04zM27 24h1.04v1.04h-1.04zM29 24h1.04v1.04h-1.04zM11 25h1.04v1.04h-1.04zM14 25h1.04v1.04h-1.04zM19 25h1.04v1.04h-1.04zM24 25h3.04v1.04h-3.04zM32 25h1.04v1.04h-1.04zM11 26h1.04v1.04h-1.04zM15 26h1.04v1.04h-1.04zM24 26h1.04v1.04h-1.04zM26 26h2.04v1.04h-2.04zM15 27h1.04v1.04h-1.04zM18 27h1.04v1.04h-1.04zM23 27h2.04v1.04h-2.04zM26 27h1.04v1.04h-1.04zM12 28h1.04v1.04h-1.04zM17 28h1.04v1.04h-1.04zM21 28h1.04v1.04h-1.04zM13 29h1.04v1.04h-1.04zM16 29h1.04v1.04h-1.04zM18 29h2.04v1.04h-2.04zM25 29h1.04v1.04h-1.04zM17 30h1.04v1.04h-1.04zM25 30h1.04v1.04h-1.04zM27 30h1.04v1.04h-1.04zM18 31h4.04v1.04h-4.04zM12 33h1.04v1.04h-1.04zM14 33h1.04v1.04h-1.04zM27 33h1.04v1.04h-1.04zM29 33h1.04v1.04h-1.04zM15 34h1.04v1.04h-1.04z"/>
<path fill="#d60000" d="M19 6h1.04v1.04h-1.04zM20 7h1.04v1.04h-1.04zM24 7h3.04v1.04h-3.04zM14 8h1.04v1.04h-1.04zM25 8h1.04v1.04h-1.04zM11 9h2.04v1.04h-2.04zM22 9h1.04v1.04h-1.04zM25 9h1.04v1.04h-1.04zM29 9h1.04v1.04h-1.04zM11 10h1.04v1.04h-1.04zM18 10h1.04v1.04h-1.04zM20 10h1.04v1.04h-1.04zM23 10h2.04v1.04h-2.04zM17 11h1.04v1.04h-1.04zM19 11h2.04v1.04h-2.04zM22 11h2.04v1.04h-2.04zM25 11h1.04v1.04h-1.04zM17 12h1.04v1.04h-1.04zM19 12h4.04v1.04h-4.04zM24 12h1.04v1.04h-1.04zM26 12h2.04v1.04h-2.04zM31 12h1.04v1.04h-1.04zM7 13h2.04v1.04h-2.04zM16 13h4.04v1.04h-4.04zM21 13h4.04v1.04h-4.04zM27 13h1.04v1.04h-1.04zM4 14h1.04v1.04h-1.04zM6 14h1.04v1.04h-1.04zM15 14h1.04v1.04h-1.04zM19 14h2.04v1.04h-2.04zM22 14h4.04v1.04h-4.04zM2 15h1.04v1.04h-1.04zM6 15h1.04v1.04h-1.04zM14 15h2.04v1.04h-2.04zM17 15h2.04v1.04h-2.04zM22 15h2.04v1.04h-2.04zM15 16h1.04v1.04h-1.04zM30 16h1.04v1.04h-1.04zM30 17h1.04v1.04h-1.04zM6 18h2.04v1.04h-2.04zM9 18h1.04v1.04h-1.04zM11 18h3.04v1.04h-3.04zM28 18h1.04v1.04h-1.04zM7 19h4.04v1.04h-4.04zM19 19h1.04v1.04h-1.04zM26 19h3.04v1.04h-3.04zM34 19h1.04v1.04h-1.04zM7 20h3.04v1.04h-3.04zM21 20h1.04v1.04h-1.04zM25 20h1.04v1.04h-1.04zM27 20h1.04v1.04h-1.04zM8 21h4.04v1.04h-4.04zM29 21h1.04v1.04h-1.04zM10 22h1.04v1.04h-1.04zM25 22h1.04v1.04h-1.04zM27 22h2.04v1.04h-2.04zM10 23h2.04v1.04h-2.04zM21 23h1.04v1.04h-1.04zM25 23h1.04v1.04h-1.04zM27 23h1.04v1.04h-1.04zM29 23h1.04v1.04h-1.04zM12 25h1.04v1.04h-1.04zM22 25h1.04v1.04h-1.04zM12 26h2.04v1.04h-2.04zM17 26h1.04v1.04h-1.04zM31 26h1.04v1.04h-1.04zM12 27h2.04v1.04h-2.04zM13 28h1.04v1.04h-1.04zM18 28h1.04v1.04h-1.04zM30 28h1.04v1.04h-1.04zM14 29h2.04v1.04h-2.04zM28 29h1.04v1.04h-1.04zM26 30h1.04v1.04h-1.04zM15 33h1.04v1.04h-1.04zM28 33h1.04v1.04h-1.04zM12 34h3.04v1.04h-3.04z"/>
<path fill="#ff0500" d="M20 6h1.04v1.04h-1.04zM24 6h1.04v1.04h-1.04zM12 7h3.04v1.04h-3.04zM21 7h1.04v1.04h-1.04zM23 7h1.04v1.04h-1.04zM11 8h2.04v1.04h-2.04zM20 8h1.04v1.04h-1.04zM22 8h3.04v1.04h-3.04zM26 8h2.04v1.04h-2.04zM13 9h1.04v1.04h-1.04zM21 9h1.04v1.04h-1.04zM23 9h2.04v1.04h-2.04zM26 9h3.04v1.04h-3.04zM13 10h1.04v1.04h-1.04zM21 10h2.04v1.04h-2.04zM25 10h3.04v1.04h-3.04zM30 10h1.04v1.04h-1.04zM12 11h1.04v1.04h-1.04zM26 11h3.04v1.04h-3.04zM16 12h1.04v1.04h-1.04zM28 12h1.04v1.04h-1.04zM6 13h1.04v1.04h-1.04zM5 14h1.04v1.04h-1.04zM7 14h2.04v1.04h-2.04zM14 14h1.04v1.04h-1.04zM26 14h1.04v1.04h-1.04zM5 15h1.04v1.04h-1.04zM10 15h1.04v1.04h-1.04zM13 15h1.04v1.04h-1.04zM19 15h1.04v1.04h-1.04zM25 15h2.04v1.04h-2.04zM3 16h1.04v1.04h-1.04zM11 16h4.04v1.04h-4.04zM24 16h2.04v1.04h-2.04zM29 16h1.04v1.04h-1.04zM31 16h1.04v1.04h-1.04zM3 17h1.04v1.04h-1.04zM8 17h3.04v1.04h-3.04zM12 17h1.04v1.04h-1.04zM14 17h2.04v1.04h-2.04zM23 17h1.04v1.04h-1.04zM29 17h1.04v1.04h-1.04zM31 17h1.04v1.04h-1.04zM8 18h1.04v1.04h-1.04zM14 18h1.04v1.04h-1.04zM21 18h1.04v1.04h-1.04zM24 18h1.04v1.04h-1.04zM27 18h1.04v1.04h-1.04zM6 19h1.04v1.04h-1.04zM13 19h1.04v1.04h-1.04zM21 19h4.04v1.04h-4.04zM29 19h1.04v1.04h-1.04zM10 20h3.04v1.04h-3.04zM22 20h3.04v1.04h-3.04zM26 20h1.04v1.04h-1.04zM33 20h2.04v1.04h-2.04zM12 21h1.04v1.04h-1.04zM22 21h5.04v1.04h-5.04zM33 21h1.04v1.04h-1.04zM11 22h1.04v1.04h-1.04zM15 22h1.04v1.04h-1.04zM19 22h2.04v1.04h-2.04zM23 22h2.04v1.04h-2.04zM26 22h1.04v1.04h-1.04zM18 23h1.04v1.04h-1.04zM22 23h3.04v1.04h-3.04zM26 23h1.04v1.04h-1.04zM12 24h1.04v1.04h-1.04zM22 24h5.04v1.04h-5.04zM28 24h1.04v1.04h-1.04zM13 25h1.04v1.04h-1.04zM23 25h1.04v1.04h-1.04zM14 26h1.04v1.04h-1.04zM16 26h1.04v1.04h-1.04zM20 26h1.04v1.04h-1.04zM23 26h1.04v1.04h-1.04zM14 27h1.04v1.04h-1.04zM17 27h1.04v1.04h-1.04zM22 27h1.04v1.04h-1.04zM27 27h3.04v1.04h-3.04zM31 27h1.04v1.04h-1.04zM15 28h1.04v1.04h-1.04zM26 28h3.04v1.04h-3.04zM26 29h2.04v1.04h-2.04zM11 34h1.04v1.04h-1.04z"/>
<path fill="#ad0000" d="M21 6h3.04v1.04h-3.04zM19 9h2.04v1.04h-2.04zM28 10h2.04v1.04h-2.04zM18 11h1.04v1.04h-1.04zM21 11h1.04v1.04h-1.04zM24 11h1.04v1.04h-1.04zM8 12h1.04v1.04h-1.04zM18 12h1.04v1.04h-1.04zM23 12h1.04v1.04h-1.04zM25 12h1.04v1.04h-1.04zM20 13h1.04v1.04h-1.04zM25 13h2.04v1.04h-2.04zM16 14h3.04v1.04h-3.04zM21 14h1.04v1.04h-1.04zM16 15h1.04v1.04h-1.04zM24 15h1.04v1.04h-1.04zM16 16h1.04v1.04h-1.04zM13 17h1.04v1.04h-1.04zM10 18h1.04v1.04h-1.04zM29 18h1.04v1.04h-1.04zM11 19h2.04v1.04h-2.04zM20 19h1.04v1.04h-1.04zM20 20h1.04v1.04h-1.04zM28 20h1.04v1.04h-1.04zM27 21h2.04v1.04h-2.04zM9 22h1.04v1.04h-1.04zM29 22h1.04v1.04h-1.04zM19 23h2.04v1.04h-2.04zM28 23h1.04v1.04h-1.04zM11 24h1.04v1.04h-1.04zM19 24h3.04v1.04h-3.04zM20 25h2.04v1.04h-2.04zM21 26h2.04v1.04h-2.04zM21 27h1.04v1.04h-1.04zM30 27h1.04v1.04h-1.04zM14 28h1.04v1.04h-1.04zM29 28h1.04v1.04h-1.04zM29 32h1.04v1.04h-1.04z"/>
</svg>
<div class="cb" style="left:1018.4px;top:24.5px;width:9.4px;height:260.9px"></div><div class="lb" style="left:1031.1px;top:281px">0</div><div class="tk" style="left:1025.3px;top:258.81px"></div><div class="lb" style="left:1031.1px;top:254.91px">10</div><div class="tk" style="left:1025.3px;top:232.72px"></div><div class="lb" style="left:1031.1px;top:228.82px">20</div><div class="tk" style="left:1025.3px;top:206.63px"></div><div class="lb" style="left:1031.1px;top:202.73px">30</div><div class="tk" style="left:1025.3px;top:180.54px"></div><div class="lb" style="left:1031.1px;top:176.64px">40</div><div class="tk" style="left:1025.3px;top:154.45px"></div><div class="lb" style="left:1031.1px;top:150.55px">50</div><div class="tk" style="left:1025.3px;top:128.36px"></div><div class="lb" style="left:1031.1px;top:124.46px">60</div><div class="tk" style="left:1025.3px;top:102.27px"></div><div class="lb" style="left:1031.1px;top:98.37px">70</div><div class="tk" style="left:1025.3px;top:76.18px"></div><div class="lb" style="left:1031.1px;top:72.28px">80</div><div class="tk" style="left:1025.3px;top:50.09px"></div><div class="lb" style="left:1031.1px;top:46.19px">90</div><div class="lb" style="left:1031.1px;top:20.1px">100</div>
<div class="tt t1" style="left:728.8px">F72_03: Homogeneity - percentages</div>
<div class="cap" style="left:867.3px;top:301px">(c)</div>
<svg class="hm" style="left:15.4px;top:348.8px" width="256" height="255.4" viewBox="0 0 36 36" preserveAspectRatio="none">
<rect width="36" height="36" fill="#000080"/>
<path fill="#000084" d="M16 4h4.04v1.04h-4.04zM12 5h12.04v1.04h-12.04zM11 6h14.04v1.04h-14.04zM9 7h8.04v1.04h-8.04zM19 7h8.04v1.04h-8.04zM8 8h5.04v1.04h-5.04zM23 8h5.04v1.04h-5.04zM7 9h5.04v1.04h-5.04zM24 9h5.04v1.04h-5.04zM7 10h4.04v1.04h-4.04zM25 10h4.04v1.04h-4.04zM6 11h4.04v1.04h-4.04zM26 11h4.04v1.04h-4.04zM5 12h4.04v1.04h-4.04zM27 12h4.04v1.04h-4.04zM5 13h3.04v1.04h-3.04zM28 13h3.04v1.04h-3.04zM5 14h3.04v1.04h-3.04zM28 14h3.04v1.04h-3.04zM5 15h3.04v1.04h-3.04zM28 15h3.04v1.04h-3.04zM4 16h4.04v1.04h-4.04zM28 16h4.04v1.04h-4.04zM4 17h3.04v1.04h-3.04zM29 17h3.04v1.04h-3.04zM4 18h3.04v1.04h-3.04zM29 18h3.04v1.04h-3.04zM4 19h4.04v1.04h-4.04zM28 19h4.04v1.04h-4.04zM5 20h3.04v1.04h-3.04zM28 20h3.04v1.04h-3.04zM5 21h3.04v1.04h-3.04zM28 21h3.04v1.04h-3.04zM5 22h3.04v1.04h-3.04zM28 22h3.04v1.04h-3.04zM5 23h4.04v1.04h-4.04zM27 23h4.04v1.04h-4.04zM6 24h4.04v1.04h-4.04zM26 24h4.04v1.04h-4.04zM7 25h4.04v1.04h-4.04zM25 25h4.04v1.04h-4.04zM7 26h5.04v1.04h-5.04zM24 26h5.04v1.04h-5.04zM8 27h5.04v1.04h-5.04zM23 27h5.04v1.04h-5.04zM9 28h8.04v1.04h-8.04zM19 28h8.04v1.04h-8.04zM11 29h14.04v1.04h-14.04zM12 30h12.04v1.04h-12.04zM16 31h4.04v1.04h-4.04z"/>
<path fill="#000088" d="M17 7h2.04v1.04h-2.04zM13 8h10.04v1.04h-10.04zM12 9h12.04v1.04h-12.04zM11 10h14.04v1.04h-14.04zM10 11h16.04v1.04h-16.04zM9 12h6.04v1.04h-6.04zM21 12h6.04v1.04h-6.04zM8 13h6.04v1.04h-6.04zM22 13h6.04v1.04h-6.04zM8 14h5.04v1.04h-5.04zM23 14h5.04v1.04h-5.04zM8 15h4.04v1.04h-4.04zM24 15h4.04v1.04h-4.04zM8 16h4.04v1.04h-4.04zM24 16h4.04v1.04h-4.04zM7 17h5.04v1.04h-5.04zM24 17h5.04v1.04h-5.04zM7 18h5.04v1.04h-5.04zM24 18h5.04v1.04h-5.04zM8 19h4.04v1.04h-4.04zM24 19h4.04v1.04h-4.04zM8 20h4.04v1.04h-4.04zM24 20h4.04v1.04h-4.04zM8 21h5.04v1.04h-5.04zM23 21h5.04v1.04h-5.04zM8 22h6.04v1.04h-6.04zM22 22h6.04v1.04h-6.04zM9 23h6.04v1.04h-6.04zM21 23h6.04v1.04h-6.04zM10 24h16.04v1.04h-16.04zM11 25h14.04v1.04h-14.04zM12 26h12.04v1.04h-12.04zM13 27h10.04v1.04h-10.04zM17 28h2.04v1.04h-2.04z"/>
<path fill="#00008c" d="M15 12h6.04v1.04h-6.04zM14 13h8.04v1.04h-8.04zM13 14h10.04v1.04h-10.04zM12 15h12.04v1.04h-12.04zM12 16h12.04v1.04h-12.04zM12 17h12.04v1.04h-12.04zM12 18h12.04v1.04h-12.04zM12 19h12.04v1.04h-12.04zM12 20h12.04v1.04h-12.04zM13 21h10.04v1.04h-10.04zM14 22h8.04v1.04h-8.04zM15 23h6.04v1.04h-6.04z"/>
</svg>
<div class="cb" style="left:282.2px;top:348.8px;width:10.4px;height:255.8px"></div><div class="lb l2" style="left:295.7px;top:600.9px">0</div><div class="tk" style="left:290.1px;top:561.467px"></div><div class="lb l2" style="left:295.7px;top:558.267px">100</div><div class="tk" style="left:290.1px;top:518.833px"></div><div class="lb l2" style="left:295.7px;top:515.633px">200</div><div class="tk" style="left:290.1px;top:476.2px"></div><div class="lb l2" style="left:295.7px;top:473px">300</div><div class="tk" style="left:290.1px;top:433.567px"></div><div class="lb l2" style="left:295.7px;top:430.367px">400</div><div class="tk" style="left:290.1px;top:390.933px"></div><div class="lb l2" style="left:295.7px;top:387.733px">500</div><div class="lb l2" style="left:295.7px;top:345.1px">600</div>
<div class="tt t2" style="left:-9px">F0_03: Homogeneity - activity</div>
<div class="cap" style="left:134.4px;top:619.3px">(d)</div>
<svg class="hm" style="left:382px;top:348.8px" width="256" height="255.4" viewBox="0 0 36 36" preserveAspectRatio="none">
<rect width="36" height="36" fill="#000080"/>
<path fill="#000084" d="M13 2h10.04v1.04h-10.04zM11 3h4.04v1.04h-4.04zM21 3h4.04v1.04h-4.04zM9 4h3.04v1.04h-3.04zM24 4h3.04v1.04h-3.04zM8 5h2.04v1.04h-2.04zM26 5h2.04v1.04h-2.04zM6 6h3.04v1.04h-3.04zM27 6h3.04v1.04h-3.04zM6 7h2.04v1.04h-2.04zM28 7h2.04v1.04h-2.04zM5 8h2.04v1.04h-2.04zM29 8h2.04v1.04h-2.04zM4 9h2.04v1.04h-2.04zM30 9h2.04v1.04h-2.04zM4 10h1.04v1.04h-1.04zM31 10h1.04v1.04h-1.04zM3 11h2.04v1.04h-2.04zM31 11h1.04v1.04h-1.04zM3 12h1.04v1.04h-1.04zM2 13h2.04v1.04h-2.04zM2 14h1.04v1.04h-1.04zM2 15h1.04v1.04h-1.04zM2 16h1.04v1.04h-1.04zM2 17h1.04v1.04h-1.04zM2 18h1.04v1.04h-1.04zM2 19h1.04v1.04h-1.04zM33 19h1.04v1.04h-1.04zM2 20h1.04v1.04h-1.04zM33 20h1.04v1.04h-1.04zM2 21h2.04v1.04h-2.04zM32 21h2.04v1.04h-2.04zM2 22h2.04v1.04h-2.04zM32 22h2.04v1.04h-2.04zM3 23h1.04v1.04h-1.04zM32 23h1.04v1.04h-1.04zM3 24h2.04v1.04h-2.04zM31 24h2.04v1.04h-2.04zM4 25h1.04v1.04h-1.04zM31 25h1.04v1.04h-1.04zM4 26h2.04v1.04h-2.04zM30 26h2.04v1.04h-2.04zM5 27h2.04v1.04h-2.04zM29 27h2.04v1.04h-2.04zM6 28h2.04v1.04h-2.04zM28 28h2.04v1.04h-2.04zM6 29h3.04v1.04h-3.04zM27 29h3.04v1.04h-3.04zM8 30h2.04v1.04h-2.04zM26 30h2.04v1.04h-2.04zM9 31h3.04v1.04h-3.04zM24 31h3.04v1.04h-3.04zM11 32h4.04v1.04h-4.04zM21 32h4.04v1.04h-4.04zM13 33h10.04v1.04h-10.04z"/>
<path fill="#000088" d="M15 3h6.04v1.04h-6.04zM12 4h12.04v1.04h-12.04zM10 5h4.04v1.04h-4.04zM22 5h4.04v1.04h-4.04zM9 6h3.04v1.04h-3.04zM24 6h3.04v1.04h-3.04zM8 7h2.04v1.04h-2.04zM26 7h2.04v1.04h-2.04zM7 8h2.04v1.04h-2.04zM27 8h2.04v1.04h-2.04zM6 9h2.04v1.04h-2.04zM28 9h2.04v1.04h-2.04zM5 10h2.04v1.04h-2.04zM29 10h2.04v1.04h-2.04zM5 11h2.04v1.04h-2.04zM29 11h2.04v1.04h-2.04zM4 12h2.04v1.04h-2.04zM30 12h2.04v1.04h-2.04zM4 13h2.04v1.04h-2.04zM30 13h2.04v1.04h-2.04zM3 17h1.04v1.04h-1.04zM3 18h1.04v1.04h-1.04zM31 18h1.04v1.04h-1.04zM3 19h2.04v1.04h-2.04zM31 19h2.04v1.04h-2.04zM3 20h2.04v1.04h-2.04zM31 20h2.04v1.04h-2.04zM4 21h1.04v1.04h-1.04zM31 21h1.04v1.04h-1.04zM4 22h2.04v1.04h-2.04zM30 22h2.04v1.04h-2.04zM4 23h2.04v1.04h-2.04zM30 23h2.04v1.04h-2.04zM5 24h2.04v1.04h-2.04zM29 24h2.04v1.04h-2.04zM5 25h2.04v1.04h-2.04zM29 25h2.04v1.04h-2.04zM6 26h2.04v1.04h-2.04zM28 26h2.04v1.04h-2.04zM7 27h2.04v1.04h-2.04zM27 27h2.04v1.04h-2.04zM8 28h2.04v1.04h-2.04zM26 28h2.04v1.04h-2.04zM9 29h3.04v1.04h-3.04zM24 29h3.04v1.04h-3.04zM10 30h4.04v1.04h-4.04zM22 30h4.04v1.04h-4.04zM12 31h12.04v1.04h-12.04zM15 32h6.04v1.04h-6.04z"/>
<path fill="#00008c" d="M14 5h8.04v1.04h-8.04zM12 6h12.04v1.04h-12.04zM10 7h5.04v1.04h-5.04zM21 7h5.04v1.04h-5.04zM9 8h2.04v1.04h-2.04zM23 8h4.04v1.04h-4.04zM8 9h3.04v1.04h-3.04zM25 9h3.04v1.04h-3.04zM7 10h3.04v1.04h-3.04zM28 10h1.04v1.04h-1.04zM7 11h2.04v1.04h-2.04zM28 11h1.04v1.04h-1.04zM6 12h3.04v1.04h-3.04zM28 12h2.04v1.04h-2.04zM6 13h2.04v1.04h-2.04zM28 13h2.04v1.04h-2.04zM6 14h2.04v1.04h-2.04zM29 14h2.04v1.04h-2.04zM29 15h2.04v1.04h-2.04zM29 16h2.04v1.04h-2.04zM29 17h2.04v1.04h-2.04zM29 18h2.04v1.04h-2.04zM5 19h2.04v1.04h-2.04zM29 19h2.04v1.04h-2.04zM5 20h2.04v1.04h-2.04zM29 20h2.04v1.04h-2.04zM5 21h3.04v1.04h-3.04zM28 21h3.04v1.04h-3.04zM6 22h2.04v1.04h-2.04zM28 22h2.04v1.04h-2.04zM6 23h3.04v1.04h-3.04zM27 23h3.04v1.04h-3.04zM7 24h2.04v1.04h-2.04zM27 24h2.04v1.04h-2.04zM7 25h3.04v1.04h-3.04zM26 25h3.04v1.04h-3.04zM8 26h3.04v1.04h-3.04zM25 26h3.04v1.04h-3.04zM9 27h4.04v1.04h-4.04zM23 27h4.04v1.04h-4.04zM10 28h5.04v1.04h-5.04zM21 28h5.04v1.04h-5.04zM12 29h12.04v1.04h-12.04zM14 30h8.04v1.04h-8.04z"/>
<path fill="#000090" d="M15 7h6.04v1.04h-6.04zM13 8h6.04v1.04h-6.04zM22 8h1.04v1.04h-1.04zM13 9h6.04v1.04h-6.04zM23 9h2.04v1.04h-2.04zM10 10h4.04v1.04h-4.04zM9 11h4.04v1.04h-4.04zM9 12h3.04v1.04h-3.04zM8 13h3.04v1.04h-3.04zM3 14h1.04v1.04h-1.04zM8 14h2.04v1.04h-2.04zM7 15h3.04v1.04h-3.04zM26 15h3.04v1.04h-3.04zM7 16h3.04v1.04h-3.04zM26 16h3.04v1.04h-3.04zM8 17h2.04v1.04h-2.04zM26 17h3.04v1.04h-3.04zM7 18h3.04v1.04h-3.04zM26 18h3.04v1.04h-3.04zM7 19h3.04v1.04h-3.04zM26 19h3.04v1.04h-3.04zM7 20h3.04v1.04h-3.04zM26 20h3.04v1.04h-3.04zM8 21h2.04v1.04h-2.04zM26 21h2.04v1.04h-2.04zM8 22h3.04v1.04h-3.04zM25 22h3.04v1.04h-3.04zM9 23h3.04v1.04h-3.04zM24 23h3.04v1.04h-3.04zM9 24h4.04v1.04h-4.04zM23 24h4.04v1.04h-4.04zM10 25h4.04v1.04h-4.04zM22 25h4.04v1.04h-4.04zM11 26h5.04v1.04h-5.04zM20 26h5.04v1.04h-5.04zM13 27h4.04v1.04h-4.04zM20 27h3.04v1.04h-3.04zM15 28h6.04v1.04h-6.04z"/>
<path fill="#0000bd" d="M11 8h1.04v1.04h-1.04zM11 9h2.04v1.04h-2.04zM32 10h1.04v1.04h-1.04zM32 11h1.04v1.04h-1.04zM31 14h1.04v1.04h-1.04zM34 14h1.04v1.04h-1.04zM34 15h1.04v1.04h-1.04zM34 16h1.04v1.04h-1.04zM34 17h1.04v1.04h-1.04zM33 18h1.04v1.04h-1.04z"/>
<path fill="#0000e6" d="M12 8h1.04v1.04h-1.04zM32 12h1.04v1.04h-1.04zM32 13h2.04v1.04h-2.04zM31 15h1.04v1.04h-1.04zM31 17h1.04v1.04h-1.04zM33 17h1.04v1.04h-1.04zM32 18h1.04v1.04h-1.04z"/>
<path fill="#00009c" d="M19 8h1.04v1.04h-1.04zM19 9h1.04v1.04h-1.04zM24 10h1.04v1.04h-1.04zM26 12h1.04v1.04h-1.04zM27 13h1.04v1.04h-1.04zM7 17h1.04v1.04h-1.04zM16 26h1.04v1.04h-1.04zM19 26h1.04v1.04h-1.04zM17 27h1.04v1.04h-1.04zM19 27h1.04v1.04h-1.04z"/>
<path fill="#0000ac" d="M20 8h2.04v1.04h-2.04zM20 9h3.04v1.04h-3.04zM22 10h2.04v1.04h-2.04zM25 10h1.04v1.04h-1.04zM23 11h4.04v1.04h-4.04zM24 12h2.04v1.04h-2.04zM25 13h2.04v1.04h-2.04zM26 14h2.04v1.04h-2.04zM17 26h2.04v1.04h-2.04zM18 27h1.04v1.04h-1.04z"/>
<path fill="#000094" d="M14 10h6.04v1.04h-6.04zM13 11h8.04v1.04h-8.04zM12 12h10.04v1.04h-10.04zM11 13h5.04v1.04h-5.04zM20 13h3.04v1.04h-3.04zM4 14h1.04v1.04h-1.04zM10 14h5.04v1.04h-5.04zM21 14h4.04v1.04h-4.04zM3 15h1.04v1.04h-1.04zM10 15h4.04v1.04h-4.04zM22 15h4.04v1.04h-4.04zM3 16h1.04v1.04h-1.04zM10 16h3.04v1.04h-3.04zM23 16h3.04v1.04h-3.04zM4 17h1.04v1.04h-1.04zM10 17h3.04v1.04h-3.04zM23 17h3.04v1.04h-3.04zM4 18h1.04v1.04h-1.04zM10 18h3.04v1.04h-3.04zM23 18h3.04v1.04h-3.04zM10 19h3.04v1.04h-3.04zM23 19h3.04v1.04h-3.04zM10 20h4.04v1.04h-4.04zM22 20h4.04v1.04h-4.04zM10 21h5.04v1.04h-5.04zM21 21h5.04v1.04h-5.04zM11 22h4.04v1.04h-4.04zM21 22h4.04v1.04h-4.04zM12 23h3.04v1.04h-3.04zM21 23h3.04v1.04h-3.04zM13 24h2.04v1.04h-2.04zM21 24h2.04v1.04h-2.04zM14 25h2.04v1.04h-2.04zM21 25h1.04v1.04h-1.04z"/>
<path fill="#0000a0" d="M20 10h1.04v1.04h-1.04zM21 11h1.04v1.04h-1.04zM22 12h1.04v1.04h-1.04zM25 14h1.04v1.04h-1.04zM15 22h1.04v1.04h-1.04zM15 23h1.04v1.04h-1.04zM20 23h1.04v1.04h-1.04zM15 24h1.04v1.04h-1.04zM20 24h1.04v1.04h-1.04zM16 25h1.04v1.04h-1.04zM20 25h1.04v1.04h-1.04z"/>
<path fill="#0000b0" d="M21 10h1.04v1.04h-1.04zM22 11h1.04v1.04h-1.04zM23 12h1.04v1.04h-1.04zM24 13h1.04v1.04h-1.04zM20 22h1.04v1.04h-1.04zM16 23h2.04v1.04h-2.04zM19 23h1.04v1.04h-1.04zM16 24h1.04v1.04h-1.04zM19 24h1.04v1.04h-1.04zM17 25h1.04v1.04h-1.04zM19 25h1.04v1.04h-1.04z"/>
<path fill="#0000a8" d="M26 10h1.04v1.04h-1.04zM27 11h1.04v1.04h-1.04zM5 17h1.04v1.04h-1.04zM5 18h1.04v1.04h-1.04z"/>
<path fill="#000098" d="M27 10h1.04v1.04h-1.04zM27 12h1.04v1.04h-1.04zM16 13h4.04v1.04h-4.04zM5 14h1.04v1.04h-1.04zM15 14h6.04v1.04h-6.04zM28 14h1.04v1.04h-1.04zM5 15h2.04v1.04h-2.04zM14 15h3.04v1.04h-3.04zM21 15h1.04v1.04h-1.04zM5 16h2.04v1.04h-2.04zM13 16h4.04v1.04h-4.04zM21 16h2.04v1.04h-2.04zM6 17h1.04v1.04h-1.04zM13 17h4.04v1.04h-4.04zM21 17h2.04v1.04h-2.04zM6 18h1.04v1.04h-1.04zM13 18h5.04v1.04h-5.04zM22 18h1.04v1.04h-1.04zM13 19h5.04v1.04h-5.04zM21 19h2.04v1.04h-2.04zM14 20h8.04v1.04h-8.04zM20 21h1.04v1.04h-1.04z"/>
<path fill="#0000c1" d="M23 13h1.04v1.04h-1.04zM18 23h1.04v1.04h-1.04zM17 24h2.04v1.04h-2.04zM18 25h1.04v1.04h-1.04z"/>
<path fill="#000fff" d="M32 14h1.04v1.04h-1.04zM33 15h1.04v1.04h-1.04zM31 16h1.04v1.04h-1.04zM33 16h1.04v1.04h-1.04z"/>
<path fill="#004dff" d="M33 14h1.04v1.04h-1.04z"/>
<path fill="#0000a4" d="M4 15h1.04v1.04h-1.04zM17 15h1.04v1.04h-1.04zM20 15h1.04v1.04h-1.04zM4 16h1.04v1.04h-1.04zM17 16h1.04v1.04h-1.04zM17 17h1.04v1.04h-1.04zM18 18h1.04v1.04h-1.04zM21 18h1.04v1.04h-1.04zM18 19h1.04v1.04h-1.04zM15 21h1.04v1.04h-1.04zM18 21h2.04v1.04h-2.04zM19 22h1.04v1.04h-1.04z"/>
<path fill="#0000b5" d="M18 15h2.04v1.04h-2.04zM18 16h3.04v1.04h-3.04zM18 17h3.04v1.04h-3.04zM19 18h2.04v1.04h-2.04zM19 19h2.04v1.04h-2.04zM16 21h2.04v1.04h-2.04zM16 22h3.04v1.04h-3.04z"/>
<path fill="#0080ff" d="M32 15h1.04v1.04h-1.04zM32 16h1.04v1.04h-1.04zM32 17h1.04v1.04h-1.04z"/>
</svg>
<div class="cb" style="left:648.8px;top:348.8px;width:10.4px;height:255.8px"></div><div class="lb l2" style="left:662.3px;top:600.9px">0</div><div class="tk" style="left:656.7px;top:561.467px"></div><div class="lb l2" style="left:662.3px;top:558.267px">100</div><div class="tk" style="left:656.7px;top:518.833px"></div><div class="lb l2" style="left:662.3px;top:515.633px">200</div><div class="tk" style="left:656.7px;top:476.2px"></div><div class="lb l2" style="left:662.3px;top:473px">300</div><div class="tk" style="left:656.7px;top:433.567px"></div><div class="lb l2" style="left:662.3px;top:430.367px">400</div><div class="tk" style="left:656.7px;top:390.933px"></div><div class="lb l2" style="left:662.3px;top:387.733px">500</div><div class="lb l2" style="left:662.3px;top:345.1px">600</div>
<div class="tt t2" style="left:357.6px">F24_03: Homogeneity - activity</div>
<div class="cap" style="left:501px;top:619.3px">(e)</div>
<svg class="hm" style="left:748.5px;top:348.8px" width="256" height="255.4" viewBox="0 0 36 36" preserveAspectRatio="none">
<rect width="36" height="36" fill="#000080"/>
<path fill="#00009e" d="M10 2h5.04v1.04h-5.04zM8 3h1.04v1.04h-1.04zM16 3h1.04v1.04h-1.04zM16 9h1.04v1.04h-1.04zM15 10h1.04v1.04h-1.04zM7 11h1.04v1.04h-1.04zM14 11h1.04v1.04h-1.04zM29 11h1.04v1.04h-1.04zM6 12h2.04v1.04h-2.04zM9 12h1.04v1.04h-1.04zM28 12h4.04v1.04h-4.04zM3 13h1.04v1.04h-1.04zM5 13h2.04v1.04h-2.04zM32 13h1.04v1.04h-1.04zM3 14h1.04v1.04h-1.04zM5 14h1.04v1.04h-1.04zM3 15h2.04v1.04h-2.04zM17 16h5.04v1.04h-5.04zM17 17h1.04v1.04h-1.04zM22 17h1.04v1.04h-1.04zM25 17h1.04v1.04h-1.04zM16 18h1.04v1.04h-1.04zM23 18h1.04v1.04h-1.04zM25 18h1.04v1.04h-1.04zM32 18h1.04v1.04h-1.04zM16 19h1.04v1.04h-1.04zM23 19h2.04v1.04h-2.04zM31 19h1.04v1.04h-1.04zM15 20h1.04v1.04h-1.04zM23 20h2.04v1.04h-2.04zM31 20h1.04v1.04h-1.04zM13 21h1.04v1.04h-1.04zM31 21h1.04v1.04h-1.04zM31 22h1.04v1.04h-1.04zM31 23h1.04v1.04h-1.04zM31 24h1.04v1.04h-1.04zM13 25h1.04v1.04h-1.04zM31 25h1.04v1.04h-1.04zM14 26h1.04v1.04h-1.04zM31 26h1.04v1.04h-1.04zM15 27h1.04v1.04h-1.04zM26 27h1.04v1.04h-1.04zM30 27h1.04v1.04h-1.04zM16 28h1.04v1.04h-1.04zM25 28h1.04v1.04h-1.04zM17 29h1.04v1.04h-1.04zM25 29h1.04v1.04h-1.04zM25 30h1.04v1.04h-1.04zM18 31h1.04v1.04h-1.04zM19 32h1.04v1.04h-1.04zM24 32h1.04v1.04h-1.04zM20 33h1.04v1.04h-1.04zM24 33h1.04v1.04h-1.04zM21 34h3.04v1.04h-3.04z"/>
<path fill="#0000bd" d="M9 3h1.04v1.04h-1.04zM15 3h1.04v1.04h-1.04zM8 4h1.04v1.04h-1.04zM16 4h1.04v1.04h-1.04zM16 5h1.04v1.04h-1.04zM16 6h1.04v1.04h-1.04zM8 7h1.04v1.04h-1.04zM16 7h1.04v1.04h-1.04zM8 8h1.04v1.04h-1.04zM16 8h1.04v1.04h-1.04zM8 9h1.04v1.04h-1.04zM15 9h1.04v1.04h-1.04zM8 10h1.04v1.04h-1.04zM14 10h1.04v1.04h-1.04zM8 11h2.04v1.04h-2.04zM13 11h1.04v1.04h-1.04zM8 12h1.04v1.04h-1.04zM4 13h1.04v1.04h-1.04zM28 13h2.04v1.04h-2.04zM4 14h1.04v1.04h-1.04zM27 14h1.04v1.04h-1.04zM32 14h1.04v1.04h-1.04zM27 15h1.04v1.04h-1.04zM32 15h1.04v1.04h-1.04zM27 16h1.04v1.04h-1.04zM32 16h1.04v1.04h-1.04zM18 17h1.04v1.04h-1.04zM21 17h1.04v1.04h-1.04zM26 17h1.04v1.04h-1.04zM32 17h1.04v1.04h-1.04zM17 18h1.04v1.04h-1.04zM22 18h1.04v1.04h-1.04zM17 19h1.04v1.04h-1.04zM22 19h1.04v1.04h-1.04zM25 19h1.04v1.04h-1.04zM30 19h1.04v1.04h-1.04zM16 20h1.04v1.04h-1.04zM30 20h1.04v1.04h-1.04zM14 21h2.04v1.04h-2.04zM23 21h2.04v1.04h-2.04zM30 21h1.04v1.04h-1.04zM23 22h2.04v1.04h-2.04zM13 24h1.04v1.04h-1.04zM14 25h1.04v1.04h-1.04zM30 25h1.04v1.04h-1.04zM15 26h1.04v1.04h-1.04zM25 26h2.04v1.04h-2.04zM30 26h1.04v1.04h-1.04zM16 27h1.04v1.04h-1.04zM25 27h1.04v1.04h-1.04zM27 27h3.04v1.04h-3.04zM17 28h1.04v1.04h-1.04zM18 30h1.04v1.04h-1.04zM24 30h1.04v1.04h-1.04zM19 31h1.04v1.04h-1.04zM24 31h1.04v1.04h-1.04zM20 32h1.04v1.04h-1.04zM23 32h1.04v1.04h-1.04zM21 33h3.04v1.04h-3.04z"/>
<path fill="#0000e6" d="M10 3h3.04v1.04h-3.04zM14 3h1.04v1.04h-1.04zM15 4h1.04v1.04h-1.04zM8 5h1.04v1.04h-1.04zM15 5h1.04v1.04h-1.04zM8 6h1.04v1.04h-1.04zM15 6h1.04v1.04h-1.04zM15 7h1.04v1.04h-1.04zM14 9h1.04v1.04h-1.04zM10 11h1.04v1.04h-1.04zM30 13h2.04v1.04h-2.04zM28 15h1.04v1.04h-1.04zM28 16h1.04v1.04h-1.04zM19 17h2.04v1.04h-2.04zM18 18h1.04v1.04h-1.04zM21 18h1.04v1.04h-1.04zM26 18h1.04v1.04h-1.04zM31 18h1.04v1.04h-1.04zM21 19h1.04v1.04h-1.04zM17 20h1.04v1.04h-1.04zM22 20h1.04v1.04h-1.04zM25 20h1.04v1.04h-1.04zM29 20h1.04v1.04h-1.04zM16 21h1.04v1.04h-1.04zM22 21h1.04v1.04h-1.04zM25 21h1.04v1.04h-1.04zM13 22h2.04v1.04h-2.04zM25 22h1.04v1.04h-1.04zM30 22h1.04v1.04h-1.04zM23 23h3.04v1.04h-3.04zM30 23h1.04v1.04h-1.04zM14 24h1.04v1.04h-1.04zM25 24h1.04v1.04h-1.04zM30 24h1.04v1.04h-1.04zM15 25h1.04v1.04h-1.04zM25 25h2.04v1.04h-2.04zM16 26h1.04v1.04h-1.04zM27 26h3.04v1.04h-3.04zM17 27h1.04v1.04h-1.04zM24 28h1.04v1.04h-1.04zM18 29h1.04v1.04h-1.04zM24 29h1.04v1.04h-1.04zM19 30h1.04v1.04h-1.04zM23 31h1.04v1.04h-1.04zM21 32h2.04v1.04h-2.04z"/>
<path fill="#000fff" d="M13 3h1.04v1.04h-1.04zM14 8h2.04v1.04h-2.04zM9 10h1.04v1.04h-1.04zM12 11h1.04v1.04h-1.04zM28 14h2.04v1.04h-2.04zM31 14h1.04v1.04h-1.04zM31 15h1.04v1.04h-1.04zM27 17h2.04v1.04h-2.04zM19 18h2.04v1.04h-2.04zM18 19h1.04v1.04h-1.04zM26 19h2.04v1.04h-2.04zM29 19h1.04v1.04h-1.04zM18 20h1.04v1.04h-1.04zM21 20h1.04v1.04h-1.04zM26 20h2.04v1.04h-2.04zM17 21h1.04v1.04h-1.04zM29 21h1.04v1.04h-1.04zM15 22h1.04v1.04h-1.04zM22 22h1.04v1.04h-1.04zM13 23h2.04v1.04h-2.04zM15 24h1.04v1.04h-1.04zM23 24h2.04v1.04h-2.04zM28 24h1.04v1.04h-1.04zM23 25h2.04v1.04h-2.04zM28 25h1.04v1.04h-1.04zM24 26h1.04v1.04h-1.04zM24 27h1.04v1.04h-1.04zM18 28h1.04v1.04h-1.04zM23 30h1.04v1.04h-1.04zM20 31h1.04v1.04h-1.04zM22 31h1.04v1.04h-1.04z"/>
<path fill="#004dff" d="M9 4h3.04v1.04h-3.04zM13 4h2.04v1.04h-2.04zM9 5h1.04v1.04h-1.04zM13 10h1.04v1.04h-1.04zM30 14h1.04v1.04h-1.04zM29 15h2.04v1.04h-2.04zM31 16h1.04v1.04h-1.04zM29 17h1.04v1.04h-1.04zM31 17h1.04v1.04h-1.04zM27 18h4.04v1.04h-4.04zM19 19h2.04v1.04h-2.04zM19 20h2.04v1.04h-2.04zM28 20h1.04v1.04h-1.04zM18 21h1.04v1.04h-1.04zM21 21h1.04v1.04h-1.04zM26 21h3.04v1.04h-3.04zM21 22h1.04v1.04h-1.04zM26 22h2.04v1.04h-2.04zM15 23h1.04v1.04h-1.04zM22 23h1.04v1.04h-1.04zM26 23h3.04v1.04h-3.04zM26 24h2.04v1.04h-2.04zM16 25h1.04v1.04h-1.04zM27 25h1.04v1.04h-1.04zM29 25h1.04v1.04h-1.04zM23 26h1.04v1.04h-1.04zM23 27h1.04v1.04h-1.04zM23 28h1.04v1.04h-1.04zM19 29h1.04v1.04h-1.04zM23 29h1.04v1.04h-1.04zM22 30h1.04v1.04h-1.04zM21 31h1.04v1.04h-1.04z"/>
<path fill="#0080ff" d="M12 4h1.04v1.04h-1.04zM14 5h1.04v1.04h-1.04zM14 6h1.04v1.04h-1.04zM14 7h1.04v1.04h-1.04zM9 9h1.04v1.04h-1.04zM11 11h1.04v1.04h-1.04zM29 16h1.04v1.04h-1.04zM30 17h1.04v1.04h-1.04zM28 19h1.04v1.04h-1.04zM19 21h2.04v1.04h-2.04zM16 22h1.04v1.04h-1.04zM28 22h1.04v1.04h-1.04zM29 23h1.04v1.04h-1.04zM22 24h1.04v1.04h-1.04zM29 24h1.04v1.04h-1.04zM18 27h1.04v1.04h-1.04zM22 29h1.04v1.04h-1.04zM21 30h1.04v1.04h-1.04z"/>
<path fill="#00b2ff" d="M10 5h1.04v1.04h-1.04zM9 6h1.04v1.04h-1.04zM30 16h1.04v1.04h-1.04zM20 22h1.04v1.04h-1.04zM29 22h1.04v1.04h-1.04zM16 23h1.04v1.04h-1.04zM16 24h1.04v1.04h-1.04zM22 25h1.04v1.04h-1.04zM17 26h1.04v1.04h-1.04zM20 29h2.04v1.04h-2.04zM20 30h1.04v1.04h-1.04z"/>
<path fill="#00dbff" d="M11 5h1.04v1.04h-1.04zM13 5h1.04v1.04h-1.04z"/>
<path fill="#00ffff" d="M12 5h1.04v1.04h-1.04zM17 22h1.04v1.04h-1.04zM21 23h1.04v1.04h-1.04zM22 26h1.04v1.04h-1.04zM19 28h4.04v1.04h-4.04z"/>
<path fill="#c7ff38" d="M10 6h3.04v1.04h-3.04zM13 8h1.04v1.04h-1.04zM18 23h1.04v1.04h-1.04zM17 24h1.04v1.04h-1.04zM19 24h1.04v1.04h-1.04zM17 25h1.04v1.04h-1.04zM19 25h2.04v1.04h-2.04zM18 26h3.04v1.04h-3.04z"/>
<path fill="#80ff80" d="M13 6h1.04v1.04h-1.04zM10 10h1.04v1.04h-1.04zM18 22h2.04v1.04h-2.04zM17 23h1.04v1.04h-1.04zM20 23h1.04v1.04h-1.04zM21 26h1.04v1.04h-1.04zM20 27h2.04v1.04h-2.04z"/>
<path fill="#ffff00" d="M9 7h1.04v1.04h-1.04zM13 7h1.04v1.04h-1.04zM10 9h1.04v1.04h-1.04zM18 24h1.04v1.04h-1.04zM20 24h1.04v1.04h-1.04zM18 25h1.04v1.04h-1.04z"/>
<path fill="#ffc700" d="M10 7h1.04v1.04h-1.04zM11 10h1.04v1.04h-1.04zM19 23h1.04v1.04h-1.04z"/>
<path fill="#ff4200" d="M11 7h2.04v1.04h-2.04zM11 8h1.04v1.04h-1.04z"/>
<path fill="#38ffc7" d="M9 8h1.04v1.04h-1.04zM13 9h1.04v1.04h-1.04zM21 24h1.04v1.04h-1.04zM21 25h1.04v1.04h-1.04zM19 27h1.04v1.04h-1.04zM22 27h1.04v1.04h-1.04z"/>
<path fill="#ff8000" d="M10 8h1.04v1.04h-1.04zM12 10h1.04v1.04h-1.04z"/>
<path fill="#ff0500" d="M12 8h1.04v1.04h-1.04z"/>
<path fill="#d60000" d="M11 9h1.04v1.04h-1.04z"/>
<path fill="#ad0000" d="M12 9h1.04v1.04h-1.04z"/>
</svg>
<div class="cb" style="left:1015.3px;top:348.8px;width:10.4px;height:255.8px"></div><div class="lb l2" style="left:1028.8px;top:600.9px">0</div><div class="tk" style="left:1023.2px;top:561.467px"></div><div class="lb l2" style="left:1028.8px;top:558.267px">100</div><div class="tk" style="left:1023.2px;top:518.833px"></div><div class="lb l2" style="left:1028.8px;top:515.633px">200</div><div class="tk" style="left:1023.2px;top:476.2px"></div><div class="lb l2" style="left:1028.8px;top:473px">300</div><div class="tk" style="left:1023.2px;top:433.567px"></div><div class="lb l2" style="left:1028.8px;top:430.367px">400</div><div class="tk" style="left:1023.2px;top:390.933px"></div><div class="lb l2" style="left:1028.8px;top:387.733px">500</div><div class="lb l2" style="left:1028.8px;top:345.1px">600</div>
<div class="tt t2" style="left:724.1px">F72_03: Homogeneity - activity</div>
<div class="cap" style="left:867.5px;top:619.3px">(f)</div>
</body></html>
